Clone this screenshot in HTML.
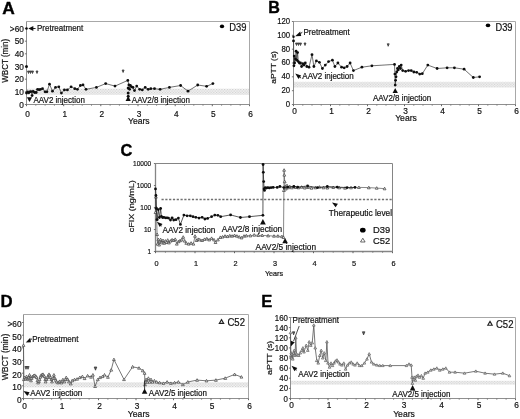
<!DOCTYPE html>
<html><head><meta charset="utf-8"><title>Figure</title>
<style>
html,body{margin:0;padding:0;background:#fff;}
body{width:520px;height:419px;overflow:hidden;font-family:"Liberation Sans",sans-serif;}
svg{display:block;}
svg text{font-family:"Liberation Sans",sans-serif;}
</style></head><body>
<svg width="520" height="419" viewBox="0 0 520 419">
<defs>
<pattern id="hatch" width="2.7" height="2.7" patternUnits="userSpaceOnUse">
<rect width="2.7" height="2.7" fill="#f7f7f7"/>
<rect x="0" y="0" width="1.15" height="1.15" fill="#c8c8c8"/>
<rect x="1.35" y="1.35" width="1.15" height="1.15" fill="#c8c8c8"/>
</pattern>
<filter id="soft" x="0" y="0" width="520" height="419" filterUnits="userSpaceOnUse"><feGaussianBlur stdDeviation="0.35"/></filter>
</defs>
<rect width="520" height="419" fill="#fff"/>
<g filter="url(#soft)">
<text x="0" y="0" font-size="16.20" text-anchor="start" font-weight="bold" fill="#000" stroke="#000" stroke-width="0.35" transform="translate(2.3,13.7) scale(1.07,1)">A</text>
<rect x="27.0" y="88.7" width="222.0" height="6.1" fill="url(#hatch)"/>
<path d="M26.5 21.5 H249.5 V104.5" fill="none" stroke="#a8a8a8" stroke-width="1"/>
<path d="M26.5 21.5 V104.5 H249.5" fill="none" stroke="#828282" stroke-width="0.9"/>
<line x1="26.5" y1="104.5" x2="26.5" y2="106.2" stroke="#555" stroke-width="0.9"/>
<text x="0" y="0" font-size="9.05" text-anchor="middle" font-weight="normal" fill="#111" stroke="#111" stroke-width="0.2" transform="translate(27.6,117.2) scale(0.92,1)">0</text>
<line x1="63.7" y1="104.5" x2="63.7" y2="106.2" stroke="#555" stroke-width="0.9"/>
<text x="0" y="0" font-size="9.05" text-anchor="middle" font-weight="normal" fill="#111" stroke="#111" stroke-width="0.2" transform="translate(64.8,117.2) scale(0.92,1)">1</text>
<line x1="100.8" y1="104.5" x2="100.8" y2="106.2" stroke="#555" stroke-width="0.9"/>
<text x="0" y="0" font-size="9.05" text-anchor="middle" font-weight="normal" fill="#111" stroke="#111" stroke-width="0.2" transform="translate(101.9,117.2) scale(0.92,1)">2</text>
<line x1="138.0" y1="104.5" x2="138.0" y2="106.2" stroke="#555" stroke-width="0.9"/>
<text x="0" y="0" font-size="9.05" text-anchor="middle" font-weight="normal" fill="#111" stroke="#111" stroke-width="0.2" transform="translate(139.1,117.2) scale(0.92,1)">3</text>
<line x1="175.2" y1="104.5" x2="175.2" y2="106.2" stroke="#555" stroke-width="0.9"/>
<text x="0" y="0" font-size="9.05" text-anchor="middle" font-weight="normal" fill="#111" stroke="#111" stroke-width="0.2" transform="translate(176.3,117.2) scale(0.92,1)">4</text>
<line x1="212.3" y1="104.5" x2="212.3" y2="106.2" stroke="#555" stroke-width="0.9"/>
<text x="0" y="0" font-size="9.05" text-anchor="middle" font-weight="normal" fill="#111" stroke="#111" stroke-width="0.2" transform="translate(213.4,117.2) scale(0.92,1)">5</text>
<line x1="249.5" y1="104.5" x2="249.5" y2="106.2" stroke="#555" stroke-width="0.9"/>
<text x="0" y="0" font-size="9.05" text-anchor="middle" font-weight="normal" fill="#111" stroke="#111" stroke-width="0.2" transform="translate(250.6,117.2) scale(0.92,1)">6</text>
<line x1="35.8" y1="104.5" x2="35.8" y2="105.8" stroke="#666" stroke-width="0.7"/>
<line x1="45.1" y1="104.5" x2="45.1" y2="105.8" stroke="#666" stroke-width="0.7"/>
<line x1="54.4" y1="104.5" x2="54.4" y2="105.8" stroke="#666" stroke-width="0.7"/>
<line x1="73.0" y1="104.5" x2="73.0" y2="105.8" stroke="#666" stroke-width="0.7"/>
<line x1="82.2" y1="104.5" x2="82.2" y2="105.8" stroke="#666" stroke-width="0.7"/>
<line x1="91.5" y1="104.5" x2="91.5" y2="105.8" stroke="#666" stroke-width="0.7"/>
<line x1="110.1" y1="104.5" x2="110.1" y2="105.8" stroke="#666" stroke-width="0.7"/>
<line x1="119.4" y1="104.5" x2="119.4" y2="105.8" stroke="#666" stroke-width="0.7"/>
<line x1="128.7" y1="104.5" x2="128.7" y2="105.8" stroke="#666" stroke-width="0.7"/>
<line x1="147.3" y1="104.5" x2="147.3" y2="105.8" stroke="#666" stroke-width="0.7"/>
<line x1="156.6" y1="104.5" x2="156.6" y2="105.8" stroke="#666" stroke-width="0.7"/>
<line x1="165.9" y1="104.5" x2="165.9" y2="105.8" stroke="#666" stroke-width="0.7"/>
<line x1="184.5" y1="104.5" x2="184.5" y2="105.8" stroke="#666" stroke-width="0.7"/>
<line x1="193.8" y1="104.5" x2="193.8" y2="105.8" stroke="#666" stroke-width="0.7"/>
<line x1="203.0" y1="104.5" x2="203.0" y2="105.8" stroke="#666" stroke-width="0.7"/>
<line x1="221.6" y1="104.5" x2="221.6" y2="105.8" stroke="#666" stroke-width="0.7"/>
<line x1="230.9" y1="104.5" x2="230.9" y2="105.8" stroke="#666" stroke-width="0.7"/>
<line x1="240.2" y1="104.5" x2="240.2" y2="105.8" stroke="#666" stroke-width="0.7"/>
<line x1="24.9" y1="104.5" x2="26.5" y2="104.5" stroke="#555" stroke-width="0.8"/>
<text x="0" y="0" font-size="9.05" text-anchor="end" font-weight="normal" fill="#111" stroke="#111" stroke-width="0.2" transform="translate(23.9,107.5) scale(0.92,1)">0</text>
<line x1="24.9" y1="91.8" x2="26.5" y2="91.8" stroke="#555" stroke-width="0.8"/>
<text x="0" y="0" font-size="9.05" text-anchor="end" font-weight="normal" fill="#111" stroke="#111" stroke-width="0.2" transform="translate(23.9,94.8) scale(0.92,1)">10</text>
<line x1="24.9" y1="79.2" x2="26.5" y2="79.2" stroke="#555" stroke-width="0.8"/>
<text x="0" y="0" font-size="9.05" text-anchor="end" font-weight="normal" fill="#111" stroke="#111" stroke-width="0.2" transform="translate(23.9,82.2) scale(0.92,1)">20</text>
<line x1="24.9" y1="66.5" x2="26.5" y2="66.5" stroke="#555" stroke-width="0.8"/>
<text x="0" y="0" font-size="9.05" text-anchor="end" font-weight="normal" fill="#111" stroke="#111" stroke-width="0.2" transform="translate(23.9,69.5) scale(0.92,1)">30</text>
<line x1="24.9" y1="53.8" x2="26.5" y2="53.8" stroke="#555" stroke-width="0.8"/>
<text x="0" y="0" font-size="9.05" text-anchor="end" font-weight="normal" fill="#111" stroke="#111" stroke-width="0.2" transform="translate(23.9,56.8) scale(0.92,1)">40</text>
<line x1="24.9" y1="41.2" x2="26.5" y2="41.2" stroke="#555" stroke-width="0.8"/>
<text x="0" y="0" font-size="9.05" text-anchor="end" font-weight="normal" fill="#111" stroke="#111" stroke-width="0.2" transform="translate(23.9,44.2) scale(0.92,1)">50</text>
<line x1="24.9" y1="28.5" x2="26.5" y2="28.5" stroke="#555" stroke-width="0.8"/>
<text x="0" y="0" font-size="9.05" text-anchor="end" font-weight="normal" fill="#111" stroke="#111" stroke-width="0.2" transform="translate(23.9,31.5) scale(0.92,1)">&gt;60</text>
<text x="0" y="0" font-size="8.72" text-anchor="middle" font-weight="normal" fill="#111" stroke="#111" stroke-width="0.2" transform="translate(7.8,60.8) rotate(-90) scale(0.92,1)">WBCT (min)</text>
<text x="0" y="0" font-size="9.37" text-anchor="middle" font-weight="normal" fill="#111" stroke="#111" stroke-width="0.2" transform="translate(138.8,124.0) scale(0.92,1)">Years</text>
<path d="M26.5 93.1 L27.6 91.8 L28.7 92.8 L29.8 91.8 L31.0 91.6 L32.1 95.6 L33.2 91.5 L34.7 92.5 L36.2 92.5 L37.6 89.3 L39.1 89.7 L40.6 89.3 L42.5 88.7 L45.1 91.8 L46.9 91.8 L49.5 84.2 L52.5 91.2 L55.5 87.4 L58.8 86.8 L61.4 93.1 L64.4 89.9 L67.4 89.9 L71.1 86.8 L74.8 88.7 L77.4 89.3 L80.4 85.5 L83.0 84.9 L86.0 89.3 L96.4 87.4 L105.7 83.6 L115.0 86.1 L127.8 80.4 L128.9 84.9 L129.6 89.3 L130.4 85.5 L131.5 86.8 L133.0 87.4 L134.5 90.6 L136.7 86.1 L139.7 89.3 L142.3 89.9 L145.2 87.4 L148.2 89.3 L150.8 88.7 L154.5 88.7 L160.1 89.3 L169.4 87.4 L180.6 85.5 L188.0 91.2 L197.7 85.0 L206.6 86.3 L212.9 83.6" fill="none" stroke="#333" stroke-width="0.7" stroke-linejoin="round"/>
<circle cx="26.5" cy="93.1" r="1.4" fill="#111"/>
<circle cx="27.6" cy="91.8" r="1.4" fill="#111"/>
<circle cx="28.7" cy="92.8" r="1.4" fill="#111"/>
<circle cx="29.8" cy="91.8" r="1.4" fill="#111"/>
<circle cx="31.0" cy="91.6" r="1.4" fill="#111"/>
<circle cx="32.1" cy="95.6" r="1.4" fill="#111"/>
<circle cx="33.2" cy="91.5" r="1.4" fill="#111"/>
<circle cx="34.7" cy="92.5" r="1.4" fill="#111"/>
<circle cx="36.2" cy="92.5" r="1.4" fill="#111"/>
<circle cx="37.6" cy="89.3" r="1.4" fill="#111"/>
<circle cx="39.1" cy="89.7" r="1.4" fill="#111"/>
<circle cx="40.6" cy="89.3" r="1.4" fill="#111"/>
<circle cx="42.5" cy="88.7" r="1.4" fill="#111"/>
<circle cx="45.1" cy="91.8" r="1.4" fill="#111"/>
<circle cx="46.9" cy="91.8" r="1.4" fill="#111"/>
<circle cx="49.5" cy="84.2" r="1.4" fill="#111"/>
<circle cx="52.5" cy="91.2" r="1.4" fill="#111"/>
<circle cx="55.5" cy="87.4" r="1.4" fill="#111"/>
<circle cx="58.8" cy="86.8" r="1.4" fill="#111"/>
<circle cx="61.4" cy="93.1" r="1.4" fill="#111"/>
<circle cx="64.4" cy="89.9" r="1.4" fill="#111"/>
<circle cx="67.4" cy="89.9" r="1.4" fill="#111"/>
<circle cx="71.1" cy="86.8" r="1.4" fill="#111"/>
<circle cx="74.8" cy="88.7" r="1.4" fill="#111"/>
<circle cx="77.4" cy="89.3" r="1.4" fill="#111"/>
<circle cx="80.4" cy="85.5" r="1.4" fill="#111"/>
<circle cx="83.0" cy="84.9" r="1.4" fill="#111"/>
<circle cx="86.0" cy="89.3" r="1.4" fill="#111"/>
<circle cx="96.4" cy="87.4" r="1.4" fill="#111"/>
<circle cx="105.7" cy="83.6" r="1.4" fill="#111"/>
<circle cx="115.0" cy="86.1" r="1.4" fill="#111"/>
<circle cx="127.8" cy="80.4" r="1.4" fill="#111"/>
<circle cx="128.9" cy="84.9" r="1.4" fill="#111"/>
<circle cx="129.6" cy="89.3" r="1.4" fill="#111"/>
<circle cx="130.4" cy="85.5" r="1.4" fill="#111"/>
<circle cx="131.5" cy="86.8" r="1.4" fill="#111"/>
<circle cx="133.0" cy="87.4" r="1.4" fill="#111"/>
<circle cx="134.5" cy="90.6" r="1.4" fill="#111"/>
<circle cx="136.7" cy="86.1" r="1.4" fill="#111"/>
<circle cx="139.7" cy="89.3" r="1.4" fill="#111"/>
<circle cx="142.3" cy="89.9" r="1.4" fill="#111"/>
<circle cx="145.2" cy="87.4" r="1.4" fill="#111"/>
<circle cx="148.2" cy="89.3" r="1.4" fill="#111"/>
<circle cx="150.8" cy="88.7" r="1.4" fill="#111"/>
<circle cx="154.5" cy="88.7" r="1.4" fill="#111"/>
<circle cx="160.1" cy="89.3" r="1.4" fill="#111"/>
<circle cx="169.4" cy="87.4" r="1.4" fill="#111"/>
<circle cx="180.6" cy="85.5" r="1.4" fill="#111"/>
<circle cx="188.0" cy="91.2" r="1.4" fill="#111"/>
<circle cx="197.7" cy="85.0" r="1.4" fill="#111"/>
<circle cx="206.6" cy="86.3" r="1.4" fill="#111"/>
<circle cx="212.9" cy="83.6" r="1.4" fill="#111"/>
<circle cx="26.5" cy="66.5" r="1.5" fill="#111"/>
<circle cx="26.5" cy="28.5" r="1.25" fill="#111"/>
<circle cx="128.2" cy="88.0" r="1.5" fill="#111"/>
<circle cx="128.2" cy="93.1" r="1.5" fill="#111"/>
<circle cx="128.2" cy="96.3" r="1.5" fill="#111"/>
<path d="M128.2 96.1 L130.8 101.0 L125.6 101.0 Z" fill="#111"/>
<path d="M28.3 28.5 L33.3 30.9 L33.3 26.1 Z" fill="#111"/>
<line x1="33" y1="28.5" x2="35.6" y2="28.5" stroke="#111" stroke-width="0.9"/>
<text x="0" y="0" font-size="8.72" text-anchor="start" font-weight="normal" fill="#111" stroke="#111" stroke-width="0.2" transform="translate(37.0,30.9) scale(0.92,1)">Pretreatment</text>
<path d="M27.5 71.0 L29.5 71.0 L28.5 73.5 Z" fill="#666" stroke="#2a2a2a" stroke-width="0.7"/>
<path d="M29.5 71.0 L31.5 71.0 L30.5 73.5 Z" fill="#666" stroke="#2a2a2a" stroke-width="0.7"/>
<path d="M31.5 71.0 L33.5 71.0 L32.5 73.5 Z" fill="#666" stroke="#2a2a2a" stroke-width="0.7"/>
<path d="M36.0 71.0 L38.0 71.0 L37.0 73.5 Z" fill="#666" stroke="#2a2a2a" stroke-width="0.7"/>
<path d="M122.1 70.0 L124.1 70.0 L123.1 72.5 Z" fill="#666" stroke="#2a2a2a" stroke-width="0.7"/>
<path d="M29.5 102.1 L32.1 97.2 L26.9 97.2 Z" fill="#111"/>
<text x="0" y="0" font-size="8.72" text-anchor="start" font-weight="normal" fill="#111" stroke="#111" stroke-width="0.2" transform="translate(33.5,102.5) scale(0.92,1)">AAV2 injection</text>
<text x="0" y="0" font-size="8.72" text-anchor="start" font-weight="normal" fill="#111" stroke="#111" stroke-width="0.2" transform="translate(131.8,102.6) scale(0.92,1)">AAV2/8 injection</text>
<ellipse cx="222" cy="26.4" rx="2.2" ry="1.8" fill="#000"/>
<text x="0" y="0" font-size="10.25" text-anchor="start" font-weight="normal" fill="#111" stroke="#111" stroke-width="0.2" transform="translate(229.2,31.4) scale(0.92,1)">D39</text>
<text x="0" y="0" font-size="16.80" text-anchor="start" font-weight="bold" fill="#000" stroke="#000" stroke-width="0.35" transform="translate(268.3,13.4) scale(0.96,1)">B</text>
<rect x="294.0" y="81.8" width="221.0" height="5.7" fill="url(#hatch)"/>
<path d="M293.5 21.5 H515.5 V104.5" fill="none" stroke="#a8a8a8" stroke-width="1"/>
<path d="M293.5 21.5 V104.5 H515.5" fill="none" stroke="#828282" stroke-width="0.9"/>
<line x1="293.5" y1="104.5" x2="293.5" y2="106.2" stroke="#555" stroke-width="0.9"/>
<text x="0" y="0" font-size="9.05" text-anchor="middle" font-weight="normal" fill="#111" stroke="#111" stroke-width="0.2" transform="translate(294.6,114.3) scale(0.92,1)">0</text>
<line x1="330.5" y1="104.5" x2="330.5" y2="106.2" stroke="#555" stroke-width="0.9"/>
<text x="0" y="0" font-size="9.05" text-anchor="middle" font-weight="normal" fill="#111" stroke="#111" stroke-width="0.2" transform="translate(331.6,114.3) scale(0.92,1)">1</text>
<line x1="367.5" y1="104.5" x2="367.5" y2="106.2" stroke="#555" stroke-width="0.9"/>
<text x="0" y="0" font-size="9.05" text-anchor="middle" font-weight="normal" fill="#111" stroke="#111" stroke-width="0.2" transform="translate(368.6,114.3) scale(0.92,1)">2</text>
<line x1="404.5" y1="104.5" x2="404.5" y2="106.2" stroke="#555" stroke-width="0.9"/>
<text x="0" y="0" font-size="9.05" text-anchor="middle" font-weight="normal" fill="#111" stroke="#111" stroke-width="0.2" transform="translate(405.6,114.3) scale(0.92,1)">3</text>
<line x1="441.5" y1="104.5" x2="441.5" y2="106.2" stroke="#555" stroke-width="0.9"/>
<text x="0" y="0" font-size="9.05" text-anchor="middle" font-weight="normal" fill="#111" stroke="#111" stroke-width="0.2" transform="translate(442.6,114.3) scale(0.92,1)">4</text>
<line x1="478.5" y1="104.5" x2="478.5" y2="106.2" stroke="#555" stroke-width="0.9"/>
<text x="0" y="0" font-size="9.05" text-anchor="middle" font-weight="normal" fill="#111" stroke="#111" stroke-width="0.2" transform="translate(479.6,114.3) scale(0.92,1)">5</text>
<line x1="515.5" y1="104.5" x2="515.5" y2="106.2" stroke="#555" stroke-width="0.9"/>
<text x="0" y="0" font-size="9.05" text-anchor="middle" font-weight="normal" fill="#111" stroke="#111" stroke-width="0.2" transform="translate(516.6,114.3) scale(0.92,1)">6</text>
<line x1="302.8" y1="104.5" x2="302.8" y2="105.8" stroke="#666" stroke-width="0.7"/>
<line x1="312.0" y1="104.5" x2="312.0" y2="105.8" stroke="#666" stroke-width="0.7"/>
<line x1="321.2" y1="104.5" x2="321.2" y2="105.8" stroke="#666" stroke-width="0.7"/>
<line x1="339.8" y1="104.5" x2="339.8" y2="105.8" stroke="#666" stroke-width="0.7"/>
<line x1="349.0" y1="104.5" x2="349.0" y2="105.8" stroke="#666" stroke-width="0.7"/>
<line x1="358.2" y1="104.5" x2="358.2" y2="105.8" stroke="#666" stroke-width="0.7"/>
<line x1="376.8" y1="104.5" x2="376.8" y2="105.8" stroke="#666" stroke-width="0.7"/>
<line x1="386.0" y1="104.5" x2="386.0" y2="105.8" stroke="#666" stroke-width="0.7"/>
<line x1="395.2" y1="104.5" x2="395.2" y2="105.8" stroke="#666" stroke-width="0.7"/>
<line x1="413.8" y1="104.5" x2="413.8" y2="105.8" stroke="#666" stroke-width="0.7"/>
<line x1="423.0" y1="104.5" x2="423.0" y2="105.8" stroke="#666" stroke-width="0.7"/>
<line x1="432.2" y1="104.5" x2="432.2" y2="105.8" stroke="#666" stroke-width="0.7"/>
<line x1="450.8" y1="104.5" x2="450.8" y2="105.8" stroke="#666" stroke-width="0.7"/>
<line x1="460.0" y1="104.5" x2="460.0" y2="105.8" stroke="#666" stroke-width="0.7"/>
<line x1="469.2" y1="104.5" x2="469.2" y2="105.8" stroke="#666" stroke-width="0.7"/>
<line x1="487.8" y1="104.5" x2="487.8" y2="105.8" stroke="#666" stroke-width="0.7"/>
<line x1="497.0" y1="104.5" x2="497.0" y2="105.8" stroke="#666" stroke-width="0.7"/>
<line x1="506.2" y1="104.5" x2="506.2" y2="105.8" stroke="#666" stroke-width="0.7"/>
<line x1="291.9" y1="104.5" x2="293.5" y2="104.5" stroke="#555" stroke-width="0.8"/>
<text x="0" y="0" font-size="9.05" text-anchor="end" font-weight="normal" fill="#111" stroke="#111" stroke-width="0.2" transform="translate(290.2,106.8) scale(0.86,1)">0</text>
<line x1="291.9" y1="90.7" x2="293.5" y2="90.7" stroke="#555" stroke-width="0.8"/>
<text x="0" y="0" font-size="9.05" text-anchor="end" font-weight="normal" fill="#111" stroke="#111" stroke-width="0.2" transform="translate(290.2,93.0) scale(0.86,1)">20</text>
<line x1="291.9" y1="76.8" x2="293.5" y2="76.8" stroke="#555" stroke-width="0.8"/>
<text x="0" y="0" font-size="9.05" text-anchor="end" font-weight="normal" fill="#111" stroke="#111" stroke-width="0.2" transform="translate(290.2,79.1) scale(0.86,1)">40</text>
<line x1="291.9" y1="63.0" x2="293.5" y2="63.0" stroke="#555" stroke-width="0.8"/>
<text x="0" y="0" font-size="9.05" text-anchor="end" font-weight="normal" fill="#111" stroke="#111" stroke-width="0.2" transform="translate(290.2,65.3) scale(0.86,1)">60</text>
<line x1="291.9" y1="49.2" x2="293.5" y2="49.2" stroke="#555" stroke-width="0.8"/>
<text x="0" y="0" font-size="9.05" text-anchor="end" font-weight="normal" fill="#111" stroke="#111" stroke-width="0.2" transform="translate(290.2,51.5) scale(0.86,1)">80</text>
<line x1="291.9" y1="35.3" x2="293.5" y2="35.3" stroke="#555" stroke-width="0.8"/>
<text x="0" y="0" font-size="9.05" text-anchor="end" font-weight="normal" fill="#111" stroke="#111" stroke-width="0.2" transform="translate(290.2,37.6) scale(0.86,1)">100</text>
<line x1="291.9" y1="21.5" x2="293.5" y2="21.5" stroke="#555" stroke-width="0.8"/>
<text x="0" y="0" font-size="9.05" text-anchor="end" font-weight="normal" fill="#111" stroke="#111" stroke-width="0.2" transform="translate(290.2,23.8) scale(0.86,1)">120</text>
<text x="0" y="0" font-size="7.80" text-anchor="middle" font-weight="normal" fill="#111" stroke="#111" stroke-width="0.2" transform="translate(276.0,67.4) rotate(-90) scale(1.08,1)">aPTT (s)</text>
<text x="0" y="0" font-size="9.37" text-anchor="middle" font-weight="normal" fill="#111" stroke="#111" stroke-width="0.2" transform="translate(406.0,120.8) scale(0.92,1)">Years</text>
<path d="M293.5 40.9 L293.9 65.8 L294.2 56.1 L294.6 63.0 L295.4 58.8 L296.1 51.2 L296.8 60.2 L297.6 52.6 L298.3 61.6 L299.4 63.0 L300.5 63.0 L301.6 66.5 L302.8 63.7 L303.9 65.1 L305.3 63.0 L306.8 66.5 L309.0 67.2 L312.0 54.7 L313.9 66.5 L316.4 60.9 L319.4 62.3 L322.4 68.5 L325.3 65.1 L328.6 61.6 L332.4 60.2 L334.9 66.5 L337.9 63.0 L341.6 67.2 L344.2 67.8 L347.1 66.5 L350.1 63.0 L353.4 70.6 L361.9 67.2 L371.9 65.8 L394.5 64.4 L394.9 74.1 L395.2 85.1 L395.6 80.3 L396.0 76.8 L396.7 72.0 L397.5 68.5 L398.2 69.9 L399.3 66.5 L400.4 68.5 L401.2 65.1 L402.7 70.6 L405.6 71.3 L408.6 70.6 L411.2 70.6 L413.8 72.0 L416.7 72.3 L419.7 74.1 L422.3 73.7 L427.8 65.1 L437.1 68.5 L447.1 67.8 L454.4 67.8 L464.1 69.2 L473.3 77.5 L479.6 76.8" fill="none" stroke="#333" stroke-width="0.7" stroke-linejoin="round"/>
<circle cx="293.5" cy="40.9" r="1.4" fill="#111"/>
<circle cx="293.9" cy="65.8" r="1.4" fill="#111"/>
<circle cx="294.2" cy="56.1" r="1.4" fill="#111"/>
<circle cx="294.6" cy="63.0" r="1.4" fill="#111"/>
<circle cx="295.4" cy="58.8" r="1.4" fill="#111"/>
<circle cx="296.1" cy="51.2" r="1.4" fill="#111"/>
<circle cx="296.8" cy="60.2" r="1.4" fill="#111"/>
<circle cx="297.6" cy="52.6" r="1.4" fill="#111"/>
<circle cx="298.3" cy="61.6" r="1.4" fill="#111"/>
<circle cx="299.4" cy="63.0" r="1.4" fill="#111"/>
<circle cx="300.5" cy="63.0" r="1.4" fill="#111"/>
<circle cx="301.6" cy="66.5" r="1.4" fill="#111"/>
<circle cx="302.8" cy="63.7" r="1.4" fill="#111"/>
<circle cx="303.9" cy="65.1" r="1.4" fill="#111"/>
<circle cx="305.3" cy="63.0" r="1.4" fill="#111"/>
<circle cx="306.8" cy="66.5" r="1.4" fill="#111"/>
<circle cx="309.0" cy="67.2" r="1.4" fill="#111"/>
<circle cx="312.0" cy="54.7" r="1.4" fill="#111"/>
<circle cx="313.9" cy="66.5" r="1.4" fill="#111"/>
<circle cx="316.4" cy="60.9" r="1.4" fill="#111"/>
<circle cx="319.4" cy="62.3" r="1.4" fill="#111"/>
<circle cx="322.4" cy="68.5" r="1.4" fill="#111"/>
<circle cx="325.3" cy="65.1" r="1.4" fill="#111"/>
<circle cx="328.6" cy="61.6" r="1.4" fill="#111"/>
<circle cx="332.4" cy="60.2" r="1.4" fill="#111"/>
<circle cx="334.9" cy="66.5" r="1.4" fill="#111"/>
<circle cx="337.9" cy="63.0" r="1.4" fill="#111"/>
<circle cx="341.6" cy="67.2" r="1.4" fill="#111"/>
<circle cx="344.2" cy="67.8" r="1.4" fill="#111"/>
<circle cx="347.1" cy="66.5" r="1.4" fill="#111"/>
<circle cx="350.1" cy="63.0" r="1.4" fill="#111"/>
<circle cx="353.4" cy="70.6" r="1.4" fill="#111"/>
<circle cx="361.9" cy="67.2" r="1.4" fill="#111"/>
<circle cx="371.9" cy="65.8" r="1.4" fill="#111"/>
<circle cx="394.5" cy="64.4" r="1.4" fill="#111"/>
<circle cx="394.9" cy="74.1" r="1.4" fill="#111"/>
<circle cx="395.2" cy="85.1" r="1.4" fill="#111"/>
<circle cx="395.6" cy="80.3" r="1.4" fill="#111"/>
<circle cx="396.0" cy="76.8" r="1.4" fill="#111"/>
<circle cx="396.7" cy="72.0" r="1.4" fill="#111"/>
<circle cx="397.5" cy="68.5" r="1.4" fill="#111"/>
<circle cx="398.2" cy="69.9" r="1.4" fill="#111"/>
<circle cx="399.3" cy="66.5" r="1.4" fill="#111"/>
<circle cx="400.4" cy="68.5" r="1.4" fill="#111"/>
<circle cx="401.2" cy="65.1" r="1.4" fill="#111"/>
<circle cx="402.7" cy="70.6" r="1.4" fill="#111"/>
<circle cx="405.6" cy="71.3" r="1.4" fill="#111"/>
<circle cx="408.6" cy="70.6" r="1.4" fill="#111"/>
<circle cx="411.2" cy="70.6" r="1.4" fill="#111"/>
<circle cx="413.8" cy="72.0" r="1.4" fill="#111"/>
<circle cx="416.7" cy="72.3" r="1.4" fill="#111"/>
<circle cx="419.7" cy="74.1" r="1.4" fill="#111"/>
<circle cx="422.3" cy="73.7" r="1.4" fill="#111"/>
<circle cx="427.8" cy="65.1" r="1.4" fill="#111"/>
<circle cx="437.1" cy="68.5" r="1.4" fill="#111"/>
<circle cx="447.1" cy="67.8" r="1.4" fill="#111"/>
<circle cx="454.4" cy="67.8" r="1.4" fill="#111"/>
<circle cx="464.1" cy="69.2" r="1.4" fill="#111"/>
<circle cx="473.3" cy="77.5" r="1.4" fill="#111"/>
<circle cx="479.6" cy="76.8" r="1.4" fill="#111"/>
<circle cx="293.5" cy="36.7" r="1.25" fill="#111"/>
<path d="M395.2 88.1 L397.9 93.0 L392.6 93.0 Z" fill="#111"/>
<path d="M295.2 36.3 L300.2 31.4 L301.2 36.1 Z" fill="#111"/>
<line x1="300.5" y1="33.5" x2="302.3" y2="32.3" stroke="#111" stroke-width="0.9"/>
<text x="0" y="0" font-size="8.72" text-anchor="start" font-weight="normal" fill="#111" stroke="#111" stroke-width="0.2" transform="translate(303.5,34.8) scale(0.92,1)">Pretreatment</text>
<path d="M295.5 43.0 L297.5 43.0 L296.5 45.5 Z" fill="#666" stroke="#2a2a2a" stroke-width="0.7"/>
<path d="M297.5 43.0 L299.5 43.0 L298.5 45.5 Z" fill="#666" stroke="#2a2a2a" stroke-width="0.7"/>
<path d="M299.5 43.0 L301.5 43.0 L300.5 45.5 Z" fill="#666" stroke="#2a2a2a" stroke-width="0.7"/>
<path d="M304.0 43.0 L306.0 43.0 L305.0 45.5 Z" fill="#666" stroke="#2a2a2a" stroke-width="0.7"/>
<path d="M387.2 43.8 L389.2 43.8 L388.2 46.3 Z" fill="#666" stroke="#2a2a2a" stroke-width="0.7"/>
<path d="M295.3 73.6 L298.5 78.9 L301.2 75.5 Z" fill="#111"/>
<line x1="299.9" y1="77.2" x2="301.1" y2="78.1" stroke="#111" stroke-width="0.9"/>
<text x="0" y="0" font-size="8.72" text-anchor="start" font-weight="normal" fill="#111" stroke="#111" stroke-width="0.2" transform="translate(302.3,78.6) scale(0.92,1)">AAV2 injection</text>
<text x="0" y="0" font-size="8.72" text-anchor="start" font-weight="normal" fill="#111" stroke="#111" stroke-width="0.2" transform="translate(373.0,101.0) scale(0.92,1)">AAV2/8 injection</text>
<ellipse cx="488" cy="25.4" rx="2.3" ry="1.8" fill="#000"/>
<text x="0" y="0" font-size="10.36" text-anchor="start" font-weight="normal" fill="#111" stroke="#111" stroke-width="0.2" transform="translate(495.4,30.7) scale(0.9,1)">D39</text>
<text x="0" y="0" font-size="16.40" text-anchor="start" font-weight="bold" fill="#000" stroke="#000" stroke-width="0.35" transform="translate(120.6,156.3) scale(1.0,1)">C</text>
<path d="M155.5 163.5 H392.5 V251.5" fill="none" stroke="#858585" stroke-width="1"/>
<path d="M155.5 163.5 V251.5 H392.5" fill="none" stroke="#858585" stroke-width="1.3"/>
<line x1="155.5" y1="251.5" x2="155.5" y2="253.2" stroke="#555" stroke-width="0.9"/>
<text x="0" y="0" font-size="7.96" text-anchor="middle" font-weight="normal" fill="#111" stroke="#111" stroke-width="0.2" transform="translate(156.6,265.7) scale(0.92,1)">0</text>
<line x1="195.0" y1="251.5" x2="195.0" y2="253.2" stroke="#555" stroke-width="0.9"/>
<text x="0" y="0" font-size="7.96" text-anchor="middle" font-weight="normal" fill="#111" stroke="#111" stroke-width="0.2" transform="translate(196.1,265.7) scale(0.92,1)">1</text>
<line x1="234.5" y1="251.5" x2="234.5" y2="253.2" stroke="#555" stroke-width="0.9"/>
<text x="0" y="0" font-size="7.96" text-anchor="middle" font-weight="normal" fill="#111" stroke="#111" stroke-width="0.2" transform="translate(235.6,265.7) scale(0.92,1)">2</text>
<line x1="274.0" y1="251.5" x2="274.0" y2="253.2" stroke="#555" stroke-width="0.9"/>
<text x="0" y="0" font-size="7.96" text-anchor="middle" font-weight="normal" fill="#111" stroke="#111" stroke-width="0.2" transform="translate(275.1,265.7) scale(0.92,1)">3</text>
<line x1="313.5" y1="251.5" x2="313.5" y2="253.2" stroke="#555" stroke-width="0.9"/>
<text x="0" y="0" font-size="7.96" text-anchor="middle" font-weight="normal" fill="#111" stroke="#111" stroke-width="0.2" transform="translate(314.6,265.7) scale(0.92,1)">4</text>
<line x1="353.0" y1="251.5" x2="353.0" y2="253.2" stroke="#555" stroke-width="0.9"/>
<text x="0" y="0" font-size="7.96" text-anchor="middle" font-weight="normal" fill="#111" stroke="#111" stroke-width="0.2" transform="translate(354.1,265.7) scale(0.92,1)">5</text>
<line x1="392.5" y1="251.5" x2="392.5" y2="253.2" stroke="#555" stroke-width="0.9"/>
<text x="0" y="0" font-size="7.96" text-anchor="middle" font-weight="normal" fill="#111" stroke="#111" stroke-width="0.2" transform="translate(393.6,265.7) scale(0.92,1)">6</text>
<line x1="165.4" y1="251.5" x2="165.4" y2="252.8" stroke="#666" stroke-width="0.7"/>
<line x1="175.2" y1="251.5" x2="175.2" y2="252.8" stroke="#666" stroke-width="0.7"/>
<line x1="185.1" y1="251.5" x2="185.1" y2="252.8" stroke="#666" stroke-width="0.7"/>
<line x1="204.9" y1="251.5" x2="204.9" y2="252.8" stroke="#666" stroke-width="0.7"/>
<line x1="214.8" y1="251.5" x2="214.8" y2="252.8" stroke="#666" stroke-width="0.7"/>
<line x1="224.6" y1="251.5" x2="224.6" y2="252.8" stroke="#666" stroke-width="0.7"/>
<line x1="244.4" y1="251.5" x2="244.4" y2="252.8" stroke="#666" stroke-width="0.7"/>
<line x1="254.2" y1="251.5" x2="254.2" y2="252.8" stroke="#666" stroke-width="0.7"/>
<line x1="264.1" y1="251.5" x2="264.1" y2="252.8" stroke="#666" stroke-width="0.7"/>
<line x1="283.9" y1="251.5" x2="283.9" y2="252.8" stroke="#666" stroke-width="0.7"/>
<line x1="293.8" y1="251.5" x2="293.8" y2="252.8" stroke="#666" stroke-width="0.7"/>
<line x1="303.6" y1="251.5" x2="303.6" y2="252.8" stroke="#666" stroke-width="0.7"/>
<line x1="323.4" y1="251.5" x2="323.4" y2="252.8" stroke="#666" stroke-width="0.7"/>
<line x1="333.2" y1="251.5" x2="333.2" y2="252.8" stroke="#666" stroke-width="0.7"/>
<line x1="343.1" y1="251.5" x2="343.1" y2="252.8" stroke="#666" stroke-width="0.7"/>
<line x1="362.9" y1="251.5" x2="362.9" y2="252.8" stroke="#666" stroke-width="0.7"/>
<line x1="372.8" y1="251.5" x2="372.8" y2="252.8" stroke="#666" stroke-width="0.7"/>
<line x1="382.6" y1="251.5" x2="382.6" y2="252.8" stroke="#666" stroke-width="0.7"/>
<line x1="153.9" y1="251.5" x2="155.5" y2="251.5" stroke="#555" stroke-width="0.8"/>
<text x="0" y="0" font-size="7.96" text-anchor="end" font-weight="normal" fill="#111" stroke="#111" stroke-width="0.2" transform="translate(151.2,254.3) scale(0.82,1)">1</text>
<line x1="153.9" y1="229.5" x2="155.5" y2="229.5" stroke="#555" stroke-width="0.8"/>
<text x="0" y="0" font-size="7.96" text-anchor="end" font-weight="normal" fill="#111" stroke="#111" stroke-width="0.2" transform="translate(151.2,232.3) scale(0.82,1)">10</text>
<line x1="153.9" y1="207.5" x2="155.5" y2="207.5" stroke="#555" stroke-width="0.8"/>
<text x="0" y="0" font-size="7.96" text-anchor="end" font-weight="normal" fill="#111" stroke="#111" stroke-width="0.2" transform="translate(151.2,210.3) scale(0.82,1)">100</text>
<line x1="153.9" y1="185.5" x2="155.5" y2="185.5" stroke="#555" stroke-width="0.8"/>
<text x="0" y="0" font-size="7.96" text-anchor="end" font-weight="normal" fill="#111" stroke="#111" stroke-width="0.2" transform="translate(151.2,188.3) scale(0.82,1)">1000</text>
<line x1="153.9" y1="163.5" x2="155.5" y2="163.5" stroke="#555" stroke-width="0.8"/>
<text x="0" y="0" font-size="7.96" text-anchor="end" font-weight="normal" fill="#111" stroke="#111" stroke-width="0.2" transform="translate(151.2,166.3) scale(0.82,1)">10000</text>
<text x="0" y="0" font-size="8.00" text-anchor="middle" font-weight="normal" fill="#111" stroke="#111" stroke-width="0.2" transform="translate(134,206.2) rotate(-90) scale(1.13,1)">cFIX (ng/mL)</text>
<text x="0" y="0" font-size="7.85" text-anchor="middle" font-weight="normal" fill="#111" stroke="#111" stroke-width="0.2" transform="translate(274.0,276.0) scale(0.92,1)">Years</text>
<line x1="161.5" y1="199.5" x2="392" y2="199.5" stroke="#707070" stroke-width="1.4" stroke-dasharray="2.2 1.6"/>
<path d="M155.5 212.4 L155.9 197.0 L156.3 207.5 L156.7 219.0 L157.1 234.4 L157.5 244.0 L158.3 239.5 L159.1 244.9 L159.8 241.7 L160.6 239.5 L161.8 242.7 L163.0 240.4 L164.2 243.1 L165.4 241.0 L166.6 242.4 L167.7 240.1 L168.9 242.7 L170.5 241.0 L172.1 239.8 L173.7 240.4 L175.2 239.3 L176.8 244.0 L178.4 241.7 L180.0 240.7 L181.6 239.8 L183.2 237.1 L184.7 241.0 L186.3 243.1 L188.7 244.0 L191.1 243.1 L193.4 244.0 L195.0 236.1 L196.6 240.4 L198.2 239.3 L199.7 239.8 L202.1 240.4 L204.5 239.3 L206.8 238.7 L209.2 239.8 L211.6 238.3 L214.0 239.8 L215.5 242.4 L217.9 239.8 L220.3 237.3 L222.6 236.9 L225.0 236.1 L227.4 236.5 L229.8 235.7 L232.1 236.1 L234.5 235.4 L236.9 236.1 L239.2 236.9 L241.6 237.8 L244.0 236.1 L246.3 235.7 L250.3 235.7 L254.2 235.0 L258.2 235.4 L262.2 235.4 L268.1 235.7 L274.0 236.1 L277.9 236.1 L281.9 236.5 L283.5 237.3 L283.9 190.4 L284.1 170.1 L284.3 175.0 L284.7 181.6 L285.1 186.5 L285.9 188.9 L287.0 185.5 L288.2 187.6 L289.8 186.5 L291.8 187.6 L293.8 186.5 L295.7 187.4 L298.5 187.6 L301.6 187.1 L304.8 187.9 L308.0 187.4 L311.5 188.1 L315.5 187.6 L319.4 187.1 L323.4 187.6 L327.3 187.9 L333.2 187.4 L339.2 187.6 L345.1 188.1 L351.0 187.6 L358.9 187.4 L368.8 187.6 L376.7 188.1 L384.6 188.6" fill="none" stroke="#555" stroke-width="0.7" stroke-linejoin="round"/>
<path d="M155.5 211.0 L156.9 213.5 L154.1 213.5 Z" fill="#f4f4f4" stroke="#444" stroke-width="0.75"/>
<path d="M155.9 195.6 L157.3 198.1 L154.5 198.1 Z" fill="#f4f4f4" stroke="#444" stroke-width="0.75"/>
<path d="M156.3 206.1 L157.7 208.6 L154.9 208.6 Z" fill="#f4f4f4" stroke="#444" stroke-width="0.75"/>
<path d="M156.7 217.6 L158.1 220.1 L155.3 220.1 Z" fill="#f4f4f4" stroke="#444" stroke-width="0.75"/>
<path d="M157.1 233.0 L158.5 235.5 L155.7 235.5 Z" fill="#f4f4f4" stroke="#444" stroke-width="0.75"/>
<path d="M157.5 242.6 L158.9 245.1 L156.1 245.1 Z" fill="#f4f4f4" stroke="#444" stroke-width="0.75"/>
<path d="M158.3 238.1 L159.7 240.7 L156.9 240.7 Z" fill="#f4f4f4" stroke="#444" stroke-width="0.75"/>
<path d="M159.1 243.5 L160.5 246.0 L157.7 246.0 Z" fill="#f4f4f4" stroke="#444" stroke-width="0.75"/>
<path d="M159.8 240.3 L161.2 242.8 L158.4 242.8 Z" fill="#f4f4f4" stroke="#444" stroke-width="0.75"/>
<path d="M160.6 238.1 L162.0 240.7 L159.2 240.7 Z" fill="#f4f4f4" stroke="#444" stroke-width="0.75"/>
<path d="M161.8 241.3 L163.2 243.9 L160.4 243.9 Z" fill="#f4f4f4" stroke="#444" stroke-width="0.75"/>
<path d="M163.0 239.0 L164.4 241.5 L161.6 241.5 Z" fill="#f4f4f4" stroke="#444" stroke-width="0.75"/>
<path d="M164.2 241.7 L165.6 244.3 L162.8 244.3 Z" fill="#f4f4f4" stroke="#444" stroke-width="0.75"/>
<path d="M165.4 239.6 L166.8 242.1 L164.0 242.1 Z" fill="#f4f4f4" stroke="#444" stroke-width="0.75"/>
<path d="M166.6 241.0 L168.0 243.5 L165.2 243.5 Z" fill="#f4f4f4" stroke="#444" stroke-width="0.75"/>
<path d="M167.7 238.7 L169.1 241.2 L166.3 241.2 Z" fill="#f4f4f4" stroke="#444" stroke-width="0.75"/>
<path d="M168.9 241.3 L170.3 243.9 L167.5 243.9 Z" fill="#f4f4f4" stroke="#444" stroke-width="0.75"/>
<path d="M170.5 239.6 L171.9 242.1 L169.1 242.1 Z" fill="#f4f4f4" stroke="#444" stroke-width="0.75"/>
<path d="M172.1 238.4 L173.5 240.9 L170.7 240.9 Z" fill="#f4f4f4" stroke="#444" stroke-width="0.75"/>
<path d="M173.7 239.0 L175.1 241.5 L172.3 241.5 Z" fill="#f4f4f4" stroke="#444" stroke-width="0.75"/>
<path d="M175.2 237.9 L176.7 240.4 L173.8 240.4 Z" fill="#f4f4f4" stroke="#444" stroke-width="0.75"/>
<path d="M176.8 242.6 L178.2 245.1 L175.4 245.1 Z" fill="#f4f4f4" stroke="#444" stroke-width="0.75"/>
<path d="M178.4 240.3 L179.8 242.8 L177.0 242.8 Z" fill="#f4f4f4" stroke="#444" stroke-width="0.75"/>
<path d="M180.0 239.3 L181.4 241.8 L178.6 241.8 Z" fill="#f4f4f4" stroke="#444" stroke-width="0.75"/>
<path d="M181.6 238.4 L183.0 240.9 L180.2 240.9 Z" fill="#f4f4f4" stroke="#444" stroke-width="0.75"/>
<path d="M183.2 235.7 L184.6 238.2 L181.8 238.2 Z" fill="#f4f4f4" stroke="#444" stroke-width="0.75"/>
<path d="M184.7 239.6 L186.1 242.1 L183.3 242.1 Z" fill="#f4f4f4" stroke="#444" stroke-width="0.75"/>
<path d="M186.3 241.7 L187.7 244.3 L184.9 244.3 Z" fill="#f4f4f4" stroke="#444" stroke-width="0.75"/>
<path d="M188.7 242.6 L190.1 245.1 L187.3 245.1 Z" fill="#f4f4f4" stroke="#444" stroke-width="0.75"/>
<path d="M191.1 241.7 L192.5 244.3 L189.7 244.3 Z" fill="#f4f4f4" stroke="#444" stroke-width="0.75"/>
<path d="M193.4 242.6 L194.8 245.1 L192.0 245.1 Z" fill="#f4f4f4" stroke="#444" stroke-width="0.75"/>
<path d="M195.0 234.7 L196.4 237.2 L193.6 237.2 Z" fill="#f4f4f4" stroke="#444" stroke-width="0.75"/>
<path d="M196.6 239.0 L198.0 241.5 L195.2 241.5 Z" fill="#f4f4f4" stroke="#444" stroke-width="0.75"/>
<path d="M198.2 237.9 L199.6 240.4 L196.8 240.4 Z" fill="#f4f4f4" stroke="#444" stroke-width="0.75"/>
<path d="M199.7 238.4 L201.1 240.9 L198.3 240.9 Z" fill="#f4f4f4" stroke="#444" stroke-width="0.75"/>
<path d="M202.1 239.0 L203.5 241.5 L200.7 241.5 Z" fill="#f4f4f4" stroke="#444" stroke-width="0.75"/>
<path d="M204.5 237.9 L205.9 240.4 L203.1 240.4 Z" fill="#f4f4f4" stroke="#444" stroke-width="0.75"/>
<path d="M206.8 237.3 L208.2 239.9 L205.4 239.9 Z" fill="#f4f4f4" stroke="#444" stroke-width="0.75"/>
<path d="M209.2 238.4 L210.6 240.9 L207.8 240.9 Z" fill="#f4f4f4" stroke="#444" stroke-width="0.75"/>
<path d="M211.6 236.9 L213.0 239.4 L210.2 239.4 Z" fill="#f4f4f4" stroke="#444" stroke-width="0.75"/>
<path d="M214.0 238.4 L215.4 240.9 L212.6 240.9 Z" fill="#f4f4f4" stroke="#444" stroke-width="0.75"/>
<path d="M215.5 241.0 L216.9 243.5 L214.1 243.5 Z" fill="#f4f4f4" stroke="#444" stroke-width="0.75"/>
<path d="M217.9 238.4 L219.3 240.9 L216.5 240.9 Z" fill="#f4f4f4" stroke="#444" stroke-width="0.75"/>
<path d="M220.3 235.9 L221.7 238.5 L218.9 238.5 Z" fill="#f4f4f4" stroke="#444" stroke-width="0.75"/>
<path d="M222.6 235.5 L224.0 238.0 L221.2 238.0 Z" fill="#f4f4f4" stroke="#444" stroke-width="0.75"/>
<path d="M225.0 234.7 L226.4 237.2 L223.6 237.2 Z" fill="#f4f4f4" stroke="#444" stroke-width="0.75"/>
<path d="M227.4 235.1 L228.8 237.6 L226.0 237.6 Z" fill="#f4f4f4" stroke="#444" stroke-width="0.75"/>
<path d="M229.8 234.3 L231.2 236.9 L228.4 236.9 Z" fill="#f4f4f4" stroke="#444" stroke-width="0.75"/>
<path d="M232.1 234.7 L233.5 237.2 L230.7 237.2 Z" fill="#f4f4f4" stroke="#444" stroke-width="0.75"/>
<path d="M234.5 234.0 L235.9 236.5 L233.1 236.5 Z" fill="#f4f4f4" stroke="#444" stroke-width="0.75"/>
<path d="M236.9 234.7 L238.3 237.2 L235.5 237.2 Z" fill="#f4f4f4" stroke="#444" stroke-width="0.75"/>
<path d="M239.2 235.5 L240.6 238.0 L237.8 238.0 Z" fill="#f4f4f4" stroke="#444" stroke-width="0.75"/>
<path d="M241.6 236.4 L243.0 238.9 L240.2 238.9 Z" fill="#f4f4f4" stroke="#444" stroke-width="0.75"/>
<path d="M244.0 234.7 L245.4 237.2 L242.6 237.2 Z" fill="#f4f4f4" stroke="#444" stroke-width="0.75"/>
<path d="M246.3 234.3 L247.7 236.9 L244.9 236.9 Z" fill="#f4f4f4" stroke="#444" stroke-width="0.75"/>
<path d="M250.3 234.3 L251.7 236.9 L248.9 236.9 Z" fill="#f4f4f4" stroke="#444" stroke-width="0.75"/>
<path d="M254.2 233.6 L255.7 236.2 L252.8 236.2 Z" fill="#f4f4f4" stroke="#444" stroke-width="0.75"/>
<path d="M258.2 234.0 L259.6 236.5 L256.8 236.5 Z" fill="#f4f4f4" stroke="#444" stroke-width="0.75"/>
<path d="M262.2 234.0 L263.6 236.5 L260.8 236.5 Z" fill="#f4f4f4" stroke="#444" stroke-width="0.75"/>
<path d="M268.1 234.3 L269.5 236.9 L266.7 236.9 Z" fill="#f4f4f4" stroke="#444" stroke-width="0.75"/>
<path d="M274.0 234.7 L275.4 237.2 L272.6 237.2 Z" fill="#f4f4f4" stroke="#444" stroke-width="0.75"/>
<path d="M277.9 234.7 L279.3 237.2 L276.6 237.2 Z" fill="#f4f4f4" stroke="#444" stroke-width="0.75"/>
<path d="M281.9 235.1 L283.3 237.6 L280.5 237.6 Z" fill="#f4f4f4" stroke="#444" stroke-width="0.75"/>
<path d="M283.5 235.9 L284.9 238.5 L282.1 238.5 Z" fill="#f4f4f4" stroke="#444" stroke-width="0.75"/>
<path d="M283.9 189.0 L285.3 191.5 L282.5 191.5 Z" fill="#f4f4f4" stroke="#444" stroke-width="0.75"/>
<path d="M284.1 168.7 L285.5 171.2 L282.7 171.2 Z" fill="#f4f4f4" stroke="#444" stroke-width="0.75"/>
<path d="M284.3 173.6 L285.7 176.1 L282.9 176.1 Z" fill="#f4f4f4" stroke="#444" stroke-width="0.75"/>
<path d="M284.7 180.2 L286.1 182.7 L283.3 182.7 Z" fill="#f4f4f4" stroke="#444" stroke-width="0.75"/>
<path d="M285.1 185.1 L286.5 187.6 L283.7 187.6 Z" fill="#f4f4f4" stroke="#444" stroke-width="0.75"/>
<path d="M285.9 187.5 L287.2 190.0 L284.5 190.0 Z" fill="#f4f4f4" stroke="#444" stroke-width="0.75"/>
<path d="M287.0 184.1 L288.4 186.6 L285.6 186.6 Z" fill="#f4f4f4" stroke="#444" stroke-width="0.75"/>
<path d="M288.2 186.2 L289.6 188.8 L286.8 188.8 Z" fill="#f4f4f4" stroke="#444" stroke-width="0.75"/>
<path d="M289.8 185.1 L291.2 187.6 L288.4 187.6 Z" fill="#f4f4f4" stroke="#444" stroke-width="0.75"/>
<path d="M291.8 186.2 L293.2 188.8 L290.4 188.8 Z" fill="#f4f4f4" stroke="#444" stroke-width="0.75"/>
<path d="M293.8 185.1 L295.1 187.6 L292.4 187.6 Z" fill="#f4f4f4" stroke="#444" stroke-width="0.75"/>
<path d="M295.7 186.0 L297.1 188.5 L294.3 188.5 Z" fill="#f4f4f4" stroke="#444" stroke-width="0.75"/>
<path d="M298.5 186.2 L299.9 188.8 L297.1 188.8 Z" fill="#f4f4f4" stroke="#444" stroke-width="0.75"/>
<path d="M301.6 185.7 L303.0 188.2 L300.2 188.2 Z" fill="#f4f4f4" stroke="#444" stroke-width="0.75"/>
<path d="M304.8 186.5 L306.2 189.0 L303.4 189.0 Z" fill="#f4f4f4" stroke="#444" stroke-width="0.75"/>
<path d="M308.0 186.0 L309.4 188.5 L306.6 188.5 Z" fill="#f4f4f4" stroke="#444" stroke-width="0.75"/>
<path d="M311.5 186.7 L312.9 189.2 L310.1 189.2 Z" fill="#f4f4f4" stroke="#444" stroke-width="0.75"/>
<path d="M315.5 186.2 L316.9 188.8 L314.1 188.8 Z" fill="#f4f4f4" stroke="#444" stroke-width="0.75"/>
<path d="M319.4 185.7 L320.8 188.2 L318.0 188.2 Z" fill="#f4f4f4" stroke="#444" stroke-width="0.75"/>
<path d="M323.4 186.2 L324.8 188.8 L322.0 188.8 Z" fill="#f4f4f4" stroke="#444" stroke-width="0.75"/>
<path d="M327.3 186.5 L328.7 189.0 L325.9 189.0 Z" fill="#f4f4f4" stroke="#444" stroke-width="0.75"/>
<path d="M333.2 186.0 L334.6 188.5 L331.9 188.5 Z" fill="#f4f4f4" stroke="#444" stroke-width="0.75"/>
<path d="M339.2 186.2 L340.6 188.8 L337.8 188.8 Z" fill="#f4f4f4" stroke="#444" stroke-width="0.75"/>
<path d="M345.1 186.7 L346.5 189.2 L343.7 189.2 Z" fill="#f4f4f4" stroke="#444" stroke-width="0.75"/>
<path d="M351.0 186.2 L352.4 188.8 L349.6 188.8 Z" fill="#f4f4f4" stroke="#444" stroke-width="0.75"/>
<path d="M358.9 186.0 L360.3 188.5 L357.5 188.5 Z" fill="#f4f4f4" stroke="#444" stroke-width="0.75"/>
<path d="M368.8 186.2 L370.2 188.8 L367.4 188.8 Z" fill="#f4f4f4" stroke="#444" stroke-width="0.75"/>
<path d="M376.7 186.7 L378.1 189.2 L375.3 189.2 Z" fill="#f4f4f4" stroke="#444" stroke-width="0.75"/>
<path d="M384.6 187.2 L386.0 189.8 L383.2 189.8 Z" fill="#f4f4f4" stroke="#444" stroke-width="0.75"/>
<path d="M155.5 188.9 L155.9 195.5 L156.3 208.5 L157.1 219.7 L158.3 209.6 L159.4 217.5 L160.6 208.5 L161.4 216.3 L162.6 217.5 L163.8 217.3 L165.4 217.8 L167.0 217.8 L168.5 218.1 L170.5 220.0 L172.1 217.8 L173.7 220.0 L176.0 219.7 L178.4 218.1 L180.4 224.4 L183.9 215.1 L187.1 215.8 L190.3 215.8 L193.0 216.7 L195.8 217.3 L199.0 218.1 L202.1 217.3 L204.9 219.0 L207.6 218.4 L211.6 216.7 L214.8 215.1 L217.9 215.3 L220.7 216.7 L230.6 214.9 L240.4 217.5 L249.5 216.7 L262.9 215.3 L263.1 164.5 L263.3 172.3 L263.7 181.6 L264.1 188.9 L264.5 190.4 L265.3 187.6 L266.5 188.1 L267.7 187.6 L269.3 187.9 L271.2 187.6 L273.2 187.4 L277.2 187.4 L279.9 186.5 L283.9 187.6 L287.8 187.1 L293.8 186.5 L297.7 187.1 L307.6 186.0 L317.4 187.6 L327.3 186.5 L337.2 187.1 L347.1 187.6 L355.0 187.4" fill="none" stroke="#222" stroke-width="0.75" stroke-linejoin="round"/>
<circle cx="155.5" cy="188.9" r="1.4" fill="#111"/>
<circle cx="155.9" cy="195.5" r="1.4" fill="#111"/>
<circle cx="156.3" cy="208.5" r="1.4" fill="#111"/>
<circle cx="157.1" cy="219.7" r="1.4" fill="#111"/>
<circle cx="158.3" cy="209.6" r="1.4" fill="#111"/>
<circle cx="159.4" cy="217.5" r="1.4" fill="#111"/>
<circle cx="160.6" cy="208.5" r="1.4" fill="#111"/>
<circle cx="161.4" cy="216.3" r="1.4" fill="#111"/>
<circle cx="162.6" cy="217.5" r="1.4" fill="#111"/>
<circle cx="163.8" cy="217.3" r="1.4" fill="#111"/>
<circle cx="165.4" cy="217.8" r="1.4" fill="#111"/>
<circle cx="167.0" cy="217.8" r="1.4" fill="#111"/>
<circle cx="168.5" cy="218.1" r="1.4" fill="#111"/>
<circle cx="170.5" cy="220.0" r="1.4" fill="#111"/>
<circle cx="172.1" cy="217.8" r="1.4" fill="#111"/>
<circle cx="173.7" cy="220.0" r="1.4" fill="#111"/>
<circle cx="176.0" cy="219.7" r="1.4" fill="#111"/>
<circle cx="178.4" cy="218.1" r="1.4" fill="#111"/>
<circle cx="180.4" cy="224.4" r="1.4" fill="#111"/>
<circle cx="183.9" cy="215.1" r="1.4" fill="#111"/>
<circle cx="187.1" cy="215.8" r="1.4" fill="#111"/>
<circle cx="190.3" cy="215.8" r="1.4" fill="#111"/>
<circle cx="193.0" cy="216.7" r="1.4" fill="#111"/>
<circle cx="195.8" cy="217.3" r="1.4" fill="#111"/>
<circle cx="199.0" cy="218.1" r="1.4" fill="#111"/>
<circle cx="202.1" cy="217.3" r="1.4" fill="#111"/>
<circle cx="204.9" cy="219.0" r="1.4" fill="#111"/>
<circle cx="207.6" cy="218.4" r="1.4" fill="#111"/>
<circle cx="211.6" cy="216.7" r="1.4" fill="#111"/>
<circle cx="214.8" cy="215.1" r="1.4" fill="#111"/>
<circle cx="217.9" cy="215.3" r="1.4" fill="#111"/>
<circle cx="220.7" cy="216.7" r="1.4" fill="#111"/>
<circle cx="230.6" cy="214.9" r="1.4" fill="#111"/>
<circle cx="240.4" cy="217.5" r="1.4" fill="#111"/>
<circle cx="249.5" cy="216.7" r="1.4" fill="#111"/>
<circle cx="262.9" cy="215.3" r="1.4" fill="#111"/>
<circle cx="263.1" cy="164.5" r="1.4" fill="#111"/>
<circle cx="263.3" cy="172.3" r="1.4" fill="#111"/>
<circle cx="263.7" cy="181.6" r="1.4" fill="#111"/>
<circle cx="264.1" cy="188.9" r="1.4" fill="#111"/>
<circle cx="264.5" cy="190.4" r="1.4" fill="#111"/>
<circle cx="265.3" cy="187.6" r="1.4" fill="#111"/>
<circle cx="266.5" cy="188.1" r="1.4" fill="#111"/>
<circle cx="267.7" cy="187.6" r="1.4" fill="#111"/>
<circle cx="269.3" cy="187.9" r="1.4" fill="#111"/>
<circle cx="271.2" cy="187.6" r="1.4" fill="#111"/>
<circle cx="273.2" cy="187.4" r="1.4" fill="#111"/>
<circle cx="277.2" cy="187.4" r="1.4" fill="#111"/>
<circle cx="279.9" cy="186.5" r="1.4" fill="#111"/>
<circle cx="283.9" cy="187.6" r="1.4" fill="#111"/>
<circle cx="287.8" cy="187.1" r="1.4" fill="#111"/>
<circle cx="293.8" cy="186.5" r="1.4" fill="#111"/>
<circle cx="297.7" cy="187.1" r="1.4" fill="#111"/>
<circle cx="307.6" cy="186.0" r="1.4" fill="#111"/>
<circle cx="317.4" cy="187.6" r="1.4" fill="#111"/>
<circle cx="327.3" cy="186.5" r="1.4" fill="#111"/>
<circle cx="337.2" cy="187.1" r="1.4" fill="#111"/>
<circle cx="347.1" cy="187.6" r="1.4" fill="#111"/>
<circle cx="355.0" cy="187.4" r="1.4" fill="#111"/>
<path d="M156.9 221.8 L159.7 227.1 L162.5 224.0 Z" fill="#111"/>
<line x1="161.1" y1="225.5" x2="161.8" y2="226.2" stroke="#111" stroke-width="0.9"/>
<text x="0" y="0" font-size="8.94" text-anchor="start" font-weight="normal" fill="#111" stroke="#111" stroke-width="0.2" transform="translate(162.6,233.2) scale(0.92,1)">AAV2 injection</text>
<text x="0" y="0" font-size="9.05" text-anchor="start" font-weight="normal" fill="#111" stroke="#111" stroke-width="0.2" transform="translate(221.8,232.2) scale(0.92,1)">AAV2/8 injection</text>
<path d="M262.9 219.1 L265.8 224.6 L260.0 224.6 Z" fill="#111"/>
<path d="M285.1 237.9 L287.9 243.2 L282.3 243.2 Z" fill="#111"/>
<text x="0" y="0" font-size="9.05" text-anchor="start" font-weight="normal" fill="#111" stroke="#111" stroke-width="0.2" transform="translate(255.6,250.2) scale(0.92,1)">AAV2/5 injection</text>
<path d="M332.0 202.5 L335.6 207.2 L337.9 203.7 Z" fill="#111"/>
<text x="0" y="0" font-size="9.05" text-anchor="start" font-weight="normal" fill="#111" stroke="#111" stroke-width="0.2" transform="translate(328.7,215.8) scale(0.92,1)">Therapeutic level</text>
<ellipse cx="362.8" cy="230.2" rx="2.8" ry="2.4" fill="#000"/>
<text x="0" y="0" font-size="9.48" text-anchor="start" font-weight="normal" fill="#111" stroke="#111" stroke-width="0.2" transform="translate(373.0,233.4) scale(0.99,1)">D39</text>
<path d="M362.8 238.2 L365.1 242 L360.5 242 Z" fill="#fff" stroke="#444" stroke-width="0.8"/>
<text x="0" y="0" font-size="9.48" text-anchor="start" font-weight="normal" fill="#111" stroke="#111" stroke-width="0.2" transform="translate(373.0,243.7) scale(0.99,1)">C52</text>
<text x="0" y="0" font-size="16.60" text-anchor="start" font-weight="bold" fill="#000" stroke="#000" stroke-width="0.35" transform="translate(0.6,307.3) scale(1.01,1)">D</text>
<rect x="24.0" y="382.3" width="224.0" height="5.1" fill="url(#hatch)"/>
<path d="M23.5 314.5 H248.5 V398.5" fill="none" stroke="#a8a8a8" stroke-width="1"/>
<path d="M23.5 314.5 V398.5 H248.5" fill="none" stroke="#828282" stroke-width="0.9"/>
<line x1="23.5" y1="398.5" x2="23.5" y2="400.2" stroke="#555" stroke-width="0.9"/>
<text x="0" y="0" font-size="9.05" text-anchor="middle" font-weight="normal" fill="#111" stroke="#111" stroke-width="0.2" transform="translate(24.6,408.8) scale(0.92,1)">0</text>
<line x1="61.0" y1="398.5" x2="61.0" y2="400.2" stroke="#555" stroke-width="0.9"/>
<text x="0" y="0" font-size="9.05" text-anchor="middle" font-weight="normal" fill="#111" stroke="#111" stroke-width="0.2" transform="translate(62.1,408.8) scale(0.92,1)">1</text>
<line x1="98.5" y1="398.5" x2="98.5" y2="400.2" stroke="#555" stroke-width="0.9"/>
<text x="0" y="0" font-size="9.05" text-anchor="middle" font-weight="normal" fill="#111" stroke="#111" stroke-width="0.2" transform="translate(99.6,408.8) scale(0.92,1)">2</text>
<line x1="136.0" y1="398.5" x2="136.0" y2="400.2" stroke="#555" stroke-width="0.9"/>
<text x="0" y="0" font-size="9.05" text-anchor="middle" font-weight="normal" fill="#111" stroke="#111" stroke-width="0.2" transform="translate(137.1,408.8) scale(0.92,1)">3</text>
<line x1="173.5" y1="398.5" x2="173.5" y2="400.2" stroke="#555" stroke-width="0.9"/>
<text x="0" y="0" font-size="9.05" text-anchor="middle" font-weight="normal" fill="#111" stroke="#111" stroke-width="0.2" transform="translate(174.6,408.8) scale(0.92,1)">4</text>
<line x1="211.0" y1="398.5" x2="211.0" y2="400.2" stroke="#555" stroke-width="0.9"/>
<text x="0" y="0" font-size="9.05" text-anchor="middle" font-weight="normal" fill="#111" stroke="#111" stroke-width="0.2" transform="translate(212.1,408.8) scale(0.92,1)">5</text>
<line x1="248.5" y1="398.5" x2="248.5" y2="400.2" stroke="#555" stroke-width="0.9"/>
<text x="0" y="0" font-size="9.05" text-anchor="middle" font-weight="normal" fill="#111" stroke="#111" stroke-width="0.2" transform="translate(249.6,408.8) scale(0.92,1)">6</text>
<line x1="32.9" y1="398.5" x2="32.9" y2="399.8" stroke="#666" stroke-width="0.7"/>
<line x1="42.2" y1="398.5" x2="42.2" y2="399.8" stroke="#666" stroke-width="0.7"/>
<line x1="51.6" y1="398.5" x2="51.6" y2="399.8" stroke="#666" stroke-width="0.7"/>
<line x1="70.4" y1="398.5" x2="70.4" y2="399.8" stroke="#666" stroke-width="0.7"/>
<line x1="79.8" y1="398.5" x2="79.8" y2="399.8" stroke="#666" stroke-width="0.7"/>
<line x1="89.1" y1="398.5" x2="89.1" y2="399.8" stroke="#666" stroke-width="0.7"/>
<line x1="107.9" y1="398.5" x2="107.9" y2="399.8" stroke="#666" stroke-width="0.7"/>
<line x1="117.2" y1="398.5" x2="117.2" y2="399.8" stroke="#666" stroke-width="0.7"/>
<line x1="126.6" y1="398.5" x2="126.6" y2="399.8" stroke="#666" stroke-width="0.7"/>
<line x1="145.4" y1="398.5" x2="145.4" y2="399.8" stroke="#666" stroke-width="0.7"/>
<line x1="154.8" y1="398.5" x2="154.8" y2="399.8" stroke="#666" stroke-width="0.7"/>
<line x1="164.1" y1="398.5" x2="164.1" y2="399.8" stroke="#666" stroke-width="0.7"/>
<line x1="182.9" y1="398.5" x2="182.9" y2="399.8" stroke="#666" stroke-width="0.7"/>
<line x1="192.2" y1="398.5" x2="192.2" y2="399.8" stroke="#666" stroke-width="0.7"/>
<line x1="201.6" y1="398.5" x2="201.6" y2="399.8" stroke="#666" stroke-width="0.7"/>
<line x1="220.4" y1="398.5" x2="220.4" y2="399.8" stroke="#666" stroke-width="0.7"/>
<line x1="229.8" y1="398.5" x2="229.8" y2="399.8" stroke="#666" stroke-width="0.7"/>
<line x1="239.1" y1="398.5" x2="239.1" y2="399.8" stroke="#666" stroke-width="0.7"/>
<line x1="21.9" y1="398.5" x2="23.5" y2="398.5" stroke="#555" stroke-width="0.8"/>
<text x="0" y="0" font-size="9.05" text-anchor="end" font-weight="normal" fill="#111" stroke="#111" stroke-width="0.2" transform="translate(21.6,402.9) scale(0.92,1)">0</text>
<line x1="21.9" y1="385.8" x2="23.5" y2="385.8" stroke="#555" stroke-width="0.8"/>
<text x="0" y="0" font-size="9.05" text-anchor="end" font-weight="normal" fill="#111" stroke="#111" stroke-width="0.2" transform="translate(21.6,390.2) scale(0.92,1)">10</text>
<line x1="21.9" y1="373.2" x2="23.5" y2="373.2" stroke="#555" stroke-width="0.8"/>
<text x="0" y="0" font-size="9.05" text-anchor="end" font-weight="normal" fill="#111" stroke="#111" stroke-width="0.2" transform="translate(21.6,377.6) scale(0.92,1)">20</text>
<line x1="21.9" y1="360.5" x2="23.5" y2="360.5" stroke="#555" stroke-width="0.8"/>
<text x="0" y="0" font-size="9.05" text-anchor="end" font-weight="normal" fill="#111" stroke="#111" stroke-width="0.2" transform="translate(21.6,364.9) scale(0.92,1)">30</text>
<line x1="21.9" y1="347.8" x2="23.5" y2="347.8" stroke="#555" stroke-width="0.8"/>
<text x="0" y="0" font-size="9.05" text-anchor="end" font-weight="normal" fill="#111" stroke="#111" stroke-width="0.2" transform="translate(21.6,352.2) scale(0.92,1)">40</text>
<line x1="21.9" y1="335.2" x2="23.5" y2="335.2" stroke="#555" stroke-width="0.8"/>
<text x="0" y="0" font-size="9.05" text-anchor="end" font-weight="normal" fill="#111" stroke="#111" stroke-width="0.2" transform="translate(21.6,339.6) scale(0.92,1)">50</text>
<line x1="21.9" y1="322.5" x2="23.5" y2="322.5" stroke="#555" stroke-width="0.8"/>
<text x="0" y="0" font-size="9.05" text-anchor="end" font-weight="normal" fill="#111" stroke="#111" stroke-width="0.2" transform="translate(21.6,326.9) scale(0.92,1)">&gt;60</text>
<text x="0" y="0" font-size="9.27" text-anchor="middle" font-weight="normal" fill="#111" stroke="#111" stroke-width="0.2" transform="translate(8,357) rotate(-90) scale(0.92,1)">WBCT (min)</text>
<text x="0" y="0" font-size="9.37" text-anchor="middle" font-weight="normal" fill="#111" stroke="#111" stroke-width="0.2" transform="translate(138.7,417.4) scale(0.92,1)">Years</text>
<path d="M23.5 345.3 L23.9 379.5 L24.6 377.5 L25.4 378.9 L26.5 376.5 L27.2 378.2 L28.0 379.6 L28.8 377.6 L29.5 374.9 L30.2 378.2 L31.0 380.6 L31.8 378.2 L32.5 376.5 L33.6 375.7 L34.8 375.3 L35.9 376.3 L36.6 377.5 L37.4 380.8 L38.1 382.8 L38.9 381.4 L39.6 379.6 L40.4 377.0 L41.1 375.3 L42.2 374.4 L43.0 374.3 L43.8 375.7 L44.5 376.5 L45.2 379.5 L45.6 381.8 L46.8 379.5 L47.5 377.5 L48.2 375.7 L49.0 374.3 L49.8 375.7 L50.5 377.5 L51.2 379.5 L52.0 381.8 L53.1 378.2 L53.9 374.9 L55.0 378.5 L55.8 380.1 L56.5 381.8 L58.0 382.8 L59.1 382.0 L59.9 381.3 L61.4 382.8 L62.1 381.3 L62.9 379.6 L64.4 381.8 L65.5 379.5 L66.2 377.5 L67.8 379.6 L68.9 381.8 L70.8 383.8 L72.2 380.6 L74.5 379.6 L77.1 379.1 L79.8 377.5 L82.4 376.5 L84.6 378.5 L87.6 375.8 L91.0 377.1 L92.9 374.9 L95.1 386.3 L97.8 379.6 L100.0 377.5 L102.6 376.5 L104.5 374.9 L107.9 377.2 L111.2 370.0 L113.9 359.5 L124.0 379.5 L132.6 366.8 L139.0 368.1 L142.8 370.6 L144.6 373.2 L145.0 384.6 L145.4 382.0 L146.1 379.5 L147.2 382.0 L148.4 378.2 L149.5 382.0 L151.0 379.5 L152.5 382.0 L154.4 380.8 L156.6 382.0 L159.6 382.7 L163.4 383.3 L167.1 382.0 L170.9 383.3 L174.6 382.7 L178.4 382.0 L182.9 384.6 L187.8 382.0 L197.1 380.1 L206.5 380.8 L215.9 380.1 L225.2 378.2 L234.6 374.4 L241.4 377.0" fill="none" stroke="#555" stroke-width="0.8" stroke-linejoin="round"/>
<path d="M23.5 343.9 L24.9 346.4 L22.1 346.4 Z" fill="#f4f4f4" stroke="#4a4a4a" stroke-width="0.75"/>
<path d="M23.9 378.1 L25.3 380.6 L22.5 380.6 Z" fill="#f4f4f4" stroke="#4a4a4a" stroke-width="0.75"/>
<path d="M24.6 376.1 L26.0 378.6 L23.2 378.6 Z" fill="#f4f4f4" stroke="#4a4a4a" stroke-width="0.75"/>
<path d="M25.4 377.5 L26.8 380.0 L24.0 380.0 Z" fill="#f4f4f4" stroke="#4a4a4a" stroke-width="0.75"/>
<path d="M26.5 375.1 L27.9 377.6 L25.1 377.6 Z" fill="#f4f4f4" stroke="#4a4a4a" stroke-width="0.75"/>
<path d="M27.2 376.8 L28.6 379.4 L25.9 379.4 Z" fill="#f4f4f4" stroke="#4a4a4a" stroke-width="0.75"/>
<path d="M28.0 378.2 L29.4 380.7 L26.6 380.7 Z" fill="#f4f4f4" stroke="#4a4a4a" stroke-width="0.75"/>
<path d="M28.8 376.2 L30.1 378.7 L27.4 378.7 Z" fill="#f4f4f4" stroke="#4a4a4a" stroke-width="0.75"/>
<path d="M29.5 373.5 L30.9 376.1 L28.1 376.1 Z" fill="#f4f4f4" stroke="#4a4a4a" stroke-width="0.75"/>
<path d="M30.2 376.8 L31.6 379.4 L28.9 379.4 Z" fill="#f4f4f4" stroke="#4a4a4a" stroke-width="0.75"/>
<path d="M31.0 379.2 L32.4 381.8 L29.6 381.8 Z" fill="#f4f4f4" stroke="#4a4a4a" stroke-width="0.75"/>
<path d="M31.8 376.8 L33.1 379.4 L30.4 379.4 Z" fill="#f4f4f4" stroke="#4a4a4a" stroke-width="0.75"/>
<path d="M32.5 375.1 L33.9 377.6 L31.1 377.6 Z" fill="#f4f4f4" stroke="#4a4a4a" stroke-width="0.75"/>
<path d="M33.6 374.3 L35.0 376.8 L32.2 376.8 Z" fill="#f4f4f4" stroke="#4a4a4a" stroke-width="0.75"/>
<path d="M34.8 373.9 L36.1 376.4 L33.4 376.4 Z" fill="#f4f4f4" stroke="#4a4a4a" stroke-width="0.75"/>
<path d="M35.9 374.9 L37.3 377.5 L34.5 377.5 Z" fill="#f4f4f4" stroke="#4a4a4a" stroke-width="0.75"/>
<path d="M36.6 376.1 L38.0 378.6 L35.2 378.6 Z" fill="#f4f4f4" stroke="#4a4a4a" stroke-width="0.75"/>
<path d="M37.4 379.4 L38.8 381.9 L36.0 381.9 Z" fill="#f4f4f4" stroke="#4a4a4a" stroke-width="0.75"/>
<path d="M38.1 381.4 L39.5 383.9 L36.7 383.9 Z" fill="#f4f4f4" stroke="#4a4a4a" stroke-width="0.75"/>
<path d="M38.9 380.0 L40.3 382.5 L37.5 382.5 Z" fill="#f4f4f4" stroke="#4a4a4a" stroke-width="0.75"/>
<path d="M39.6 378.2 L41.0 380.7 L38.2 380.7 Z" fill="#f4f4f4" stroke="#4a4a4a" stroke-width="0.75"/>
<path d="M40.4 375.6 L41.8 378.1 L39.0 378.1 Z" fill="#f4f4f4" stroke="#4a4a4a" stroke-width="0.75"/>
<path d="M41.1 373.9 L42.5 376.4 L39.7 376.4 Z" fill="#f4f4f4" stroke="#4a4a4a" stroke-width="0.75"/>
<path d="M42.2 373.0 L43.6 375.6 L40.9 375.6 Z" fill="#f4f4f4" stroke="#4a4a4a" stroke-width="0.75"/>
<path d="M43.0 372.9 L44.4 375.4 L41.6 375.4 Z" fill="#f4f4f4" stroke="#4a4a4a" stroke-width="0.75"/>
<path d="M43.8 374.3 L45.1 376.8 L42.4 376.8 Z" fill="#f4f4f4" stroke="#4a4a4a" stroke-width="0.75"/>
<path d="M44.5 375.1 L45.9 377.6 L43.1 377.6 Z" fill="#f4f4f4" stroke="#4a4a4a" stroke-width="0.75"/>
<path d="M45.2 378.1 L46.6 380.6 L43.9 380.6 Z" fill="#f4f4f4" stroke="#4a4a4a" stroke-width="0.75"/>
<path d="M45.6 380.4 L47.0 382.9 L44.2 382.9 Z" fill="#f4f4f4" stroke="#4a4a4a" stroke-width="0.75"/>
<path d="M46.8 378.1 L48.1 380.6 L45.4 380.6 Z" fill="#f4f4f4" stroke="#4a4a4a" stroke-width="0.75"/>
<path d="M47.5 376.1 L48.9 378.6 L46.1 378.6 Z" fill="#f4f4f4" stroke="#4a4a4a" stroke-width="0.75"/>
<path d="M48.2 374.3 L49.6 376.8 L46.9 376.8 Z" fill="#f4f4f4" stroke="#4a4a4a" stroke-width="0.75"/>
<path d="M49.0 372.9 L50.4 375.4 L47.6 375.4 Z" fill="#f4f4f4" stroke="#4a4a4a" stroke-width="0.75"/>
<path d="M49.8 374.3 L51.1 376.8 L48.4 376.8 Z" fill="#f4f4f4" stroke="#4a4a4a" stroke-width="0.75"/>
<path d="M50.5 376.1 L51.9 378.6 L49.1 378.6 Z" fill="#f4f4f4" stroke="#4a4a4a" stroke-width="0.75"/>
<path d="M51.2 378.1 L52.6 380.6 L49.9 380.6 Z" fill="#f4f4f4" stroke="#4a4a4a" stroke-width="0.75"/>
<path d="M52.0 380.4 L53.4 382.9 L50.6 382.9 Z" fill="#f4f4f4" stroke="#4a4a4a" stroke-width="0.75"/>
<path d="M53.1 376.8 L54.5 379.4 L51.7 379.4 Z" fill="#f4f4f4" stroke="#4a4a4a" stroke-width="0.75"/>
<path d="M53.9 373.5 L55.3 376.1 L52.5 376.1 Z" fill="#f4f4f4" stroke="#4a4a4a" stroke-width="0.75"/>
<path d="M55.0 377.1 L56.4 379.6 L53.6 379.6 Z" fill="#f4f4f4" stroke="#4a4a4a" stroke-width="0.75"/>
<path d="M55.8 378.7 L57.1 381.3 L54.4 381.3 Z" fill="#f4f4f4" stroke="#4a4a4a" stroke-width="0.75"/>
<path d="M56.5 380.4 L57.9 382.9 L55.1 382.9 Z" fill="#f4f4f4" stroke="#4a4a4a" stroke-width="0.75"/>
<path d="M58.0 381.4 L59.4 383.9 L56.6 383.9 Z" fill="#f4f4f4" stroke="#4a4a4a" stroke-width="0.75"/>
<path d="M59.1 380.6 L60.5 383.2 L57.7 383.2 Z" fill="#f4f4f4" stroke="#4a4a4a" stroke-width="0.75"/>
<path d="M59.9 379.9 L61.3 382.4 L58.5 382.4 Z" fill="#f4f4f4" stroke="#4a4a4a" stroke-width="0.75"/>
<path d="M61.4 381.4 L62.8 383.9 L60.0 383.9 Z" fill="#f4f4f4" stroke="#4a4a4a" stroke-width="0.75"/>
<path d="M62.1 379.9 L63.5 382.4 L60.7 382.4 Z" fill="#f4f4f4" stroke="#4a4a4a" stroke-width="0.75"/>
<path d="M62.9 378.2 L64.3 380.7 L61.5 380.7 Z" fill="#f4f4f4" stroke="#4a4a4a" stroke-width="0.75"/>
<path d="M64.4 380.4 L65.8 382.9 L63.0 382.9 Z" fill="#f4f4f4" stroke="#4a4a4a" stroke-width="0.75"/>
<path d="M65.5 378.1 L66.9 380.6 L64.1 380.6 Z" fill="#f4f4f4" stroke="#4a4a4a" stroke-width="0.75"/>
<path d="M66.2 376.1 L67.7 378.6 L64.8 378.6 Z" fill="#f4f4f4" stroke="#4a4a4a" stroke-width="0.75"/>
<path d="M67.8 378.2 L69.2 380.7 L66.3 380.7 Z" fill="#f4f4f4" stroke="#4a4a4a" stroke-width="0.75"/>
<path d="M68.9 380.4 L70.3 382.9 L67.5 382.9 Z" fill="#f4f4f4" stroke="#4a4a4a" stroke-width="0.75"/>
<path d="M70.8 382.4 L72.2 384.9 L69.3 384.9 Z" fill="#f4f4f4" stroke="#4a4a4a" stroke-width="0.75"/>
<path d="M72.2 379.2 L73.7 381.8 L70.8 381.8 Z" fill="#f4f4f4" stroke="#4a4a4a" stroke-width="0.75"/>
<path d="M74.5 378.2 L75.9 380.7 L73.1 380.7 Z" fill="#f4f4f4" stroke="#4a4a4a" stroke-width="0.75"/>
<path d="M77.1 377.7 L78.5 380.2 L75.7 380.2 Z" fill="#f4f4f4" stroke="#4a4a4a" stroke-width="0.75"/>
<path d="M79.8 376.1 L81.2 378.6 L78.3 378.6 Z" fill="#f4f4f4" stroke="#4a4a4a" stroke-width="0.75"/>
<path d="M82.4 375.1 L83.8 377.6 L81.0 377.6 Z" fill="#f4f4f4" stroke="#4a4a4a" stroke-width="0.75"/>
<path d="M84.6 377.1 L86.0 379.6 L83.2 379.6 Z" fill="#f4f4f4" stroke="#4a4a4a" stroke-width="0.75"/>
<path d="M87.6 374.4 L89.0 376.9 L86.2 376.9 Z" fill="#f4f4f4" stroke="#4a4a4a" stroke-width="0.75"/>
<path d="M91.0 375.7 L92.4 378.2 L89.6 378.2 Z" fill="#f4f4f4" stroke="#4a4a4a" stroke-width="0.75"/>
<path d="M92.9 373.5 L94.3 376.1 L91.5 376.1 Z" fill="#f4f4f4" stroke="#4a4a4a" stroke-width="0.75"/>
<path d="M95.1 384.9 L96.5 387.5 L93.7 387.5 Z" fill="#f4f4f4" stroke="#4a4a4a" stroke-width="0.75"/>
<path d="M97.8 378.2 L99.2 380.7 L96.3 380.7 Z" fill="#f4f4f4" stroke="#4a4a4a" stroke-width="0.75"/>
<path d="M100.0 376.1 L101.4 378.6 L98.6 378.6 Z" fill="#f4f4f4" stroke="#4a4a4a" stroke-width="0.75"/>
<path d="M102.6 375.1 L104.0 377.6 L101.2 377.6 Z" fill="#f4f4f4" stroke="#4a4a4a" stroke-width="0.75"/>
<path d="M104.5 373.5 L105.9 376.1 L103.1 376.1 Z" fill="#f4f4f4" stroke="#4a4a4a" stroke-width="0.75"/>
<path d="M107.9 375.8 L109.3 378.3 L106.5 378.3 Z" fill="#f4f4f4" stroke="#4a4a4a" stroke-width="0.75"/>
<path d="M111.2 368.6 L112.7 371.1 L109.8 371.1 Z" fill="#f4f4f4" stroke="#4a4a4a" stroke-width="0.75"/>
<path d="M113.9 358.1 L115.3 360.6 L112.5 360.6 Z" fill="#f4f4f4" stroke="#4a4a4a" stroke-width="0.75"/>
<path d="M124.0 378.1 L125.4 380.6 L122.6 380.6 Z" fill="#f4f4f4" stroke="#4a4a4a" stroke-width="0.75"/>
<path d="M132.6 365.4 L134.0 368.0 L131.2 368.0 Z" fill="#f4f4f4" stroke="#4a4a4a" stroke-width="0.75"/>
<path d="M139.0 366.7 L140.4 369.2 L137.6 369.2 Z" fill="#f4f4f4" stroke="#4a4a4a" stroke-width="0.75"/>
<path d="M142.8 369.2 L144.2 371.8 L141.3 371.8 Z" fill="#f4f4f4" stroke="#4a4a4a" stroke-width="0.75"/>
<path d="M144.6 371.8 L146.0 374.3 L143.2 374.3 Z" fill="#f4f4f4" stroke="#4a4a4a" stroke-width="0.75"/>
<path d="M145.0 383.2 L146.4 385.7 L143.6 385.7 Z" fill="#f4f4f4" stroke="#4a4a4a" stroke-width="0.75"/>
<path d="M145.4 380.6 L146.8 383.2 L144.0 383.2 Z" fill="#f4f4f4" stroke="#4a4a4a" stroke-width="0.75"/>
<path d="M146.1 378.1 L147.5 380.6 L144.7 380.6 Z" fill="#f4f4f4" stroke="#4a4a4a" stroke-width="0.75"/>
<path d="M147.2 380.6 L148.7 383.2 L145.8 383.2 Z" fill="#f4f4f4" stroke="#4a4a4a" stroke-width="0.75"/>
<path d="M148.4 376.8 L149.8 379.4 L147.0 379.4 Z" fill="#f4f4f4" stroke="#4a4a4a" stroke-width="0.75"/>
<path d="M149.5 380.6 L150.9 383.2 L148.1 383.2 Z" fill="#f4f4f4" stroke="#4a4a4a" stroke-width="0.75"/>
<path d="M151.0 378.1 L152.4 380.6 L149.6 380.6 Z" fill="#f4f4f4" stroke="#4a4a4a" stroke-width="0.75"/>
<path d="M152.5 380.6 L153.9 383.2 L151.1 383.2 Z" fill="#f4f4f4" stroke="#4a4a4a" stroke-width="0.75"/>
<path d="M154.4 379.4 L155.8 381.9 L153.0 381.9 Z" fill="#f4f4f4" stroke="#4a4a4a" stroke-width="0.75"/>
<path d="M156.6 380.6 L158.0 383.2 L155.2 383.2 Z" fill="#f4f4f4" stroke="#4a4a4a" stroke-width="0.75"/>
<path d="M159.6 381.3 L161.0 383.8 L158.2 383.8 Z" fill="#f4f4f4" stroke="#4a4a4a" stroke-width="0.75"/>
<path d="M163.4 381.9 L164.8 384.4 L162.0 384.4 Z" fill="#f4f4f4" stroke="#4a4a4a" stroke-width="0.75"/>
<path d="M167.1 380.6 L168.5 383.2 L165.7 383.2 Z" fill="#f4f4f4" stroke="#4a4a4a" stroke-width="0.75"/>
<path d="M170.9 381.9 L172.3 384.4 L169.5 384.4 Z" fill="#f4f4f4" stroke="#4a4a4a" stroke-width="0.75"/>
<path d="M174.6 381.3 L176.0 383.8 L173.2 383.8 Z" fill="#f4f4f4" stroke="#4a4a4a" stroke-width="0.75"/>
<path d="M178.4 380.6 L179.8 383.2 L177.0 383.2 Z" fill="#f4f4f4" stroke="#4a4a4a" stroke-width="0.75"/>
<path d="M182.9 383.2 L184.3 385.7 L181.5 385.7 Z" fill="#f4f4f4" stroke="#4a4a4a" stroke-width="0.75"/>
<path d="M187.8 380.6 L189.2 383.2 L186.3 383.2 Z" fill="#f4f4f4" stroke="#4a4a4a" stroke-width="0.75"/>
<path d="M197.1 378.7 L198.5 381.3 L195.7 381.3 Z" fill="#f4f4f4" stroke="#4a4a4a" stroke-width="0.75"/>
<path d="M206.5 379.4 L207.9 381.9 L205.1 381.9 Z" fill="#f4f4f4" stroke="#4a4a4a" stroke-width="0.75"/>
<path d="M215.9 378.7 L217.3 381.3 L214.5 381.3 Z" fill="#f4f4f4" stroke="#4a4a4a" stroke-width="0.75"/>
<path d="M225.2 376.8 L226.7 379.4 L223.8 379.4 Z" fill="#f4f4f4" stroke="#4a4a4a" stroke-width="0.75"/>
<path d="M234.6 373.0 L236.0 375.6 L233.2 375.6 Z" fill="#f4f4f4" stroke="#4a4a4a" stroke-width="0.75"/>
<path d="M241.4 375.6 L242.8 378.1 L240.0 378.1 Z" fill="#f4f4f4" stroke="#4a4a4a" stroke-width="0.75"/>
<path d="M144.6 388.4 L147.4 393.7 L141.8 393.7 Z" fill="#111"/>
<line x1="144.6" y1="380.8" x2="144.6" y2="389.6" stroke="#222" stroke-width="0.9"/>
<path d="M25.8 342.4 L30.2 337.8 L31 342.2 Z" fill="#111"/>
<line x1="30.5" y1="339.8" x2="32" y2="338.8" stroke="#111" stroke-width="0.9"/>
<text x="0" y="0" font-size="8.72" text-anchor="start" font-weight="normal" fill="#111" stroke="#111" stroke-width="0.2" transform="translate(32.2,342.0) scale(0.92,1)">Pretreatment</text>
<path d="M24.9 366.5 L27.1 366.5 L26.0 369.3 Z" fill="#666" stroke="#2a2a2a" stroke-width="0.7"/>
<path d="M26.9 366.5 L29.1 366.5 L28.0 369.3 Z" fill="#666" stroke="#2a2a2a" stroke-width="0.7"/>
<path d="M94.2 367.0 L96.8 367.0 L95.5 370.2 Z" fill="#666" stroke="#2a2a2a" stroke-width="0.7"/>
<path d="M23.5 391.0 L27.3 395.9 L29.6 392.2 Z" fill="#111"/>
<line x1="28.4" y1="394.1" x2="29.3" y2="394.6" stroke="#111" stroke-width="0.9"/>
<text x="0" y="0" font-size="8.83" text-anchor="start" font-weight="normal" fill="#111" stroke="#111" stroke-width="0.2" transform="translate(30.2,396.4) scale(0.92,1)">AAV2 injection</text>
<text x="0" y="0" font-size="8.72" text-anchor="start" font-weight="normal" fill="#111" stroke="#111" stroke-width="0.2" transform="translate(148.8,396.2) scale(0.92,1)">AAV2/5 injection</text>
<path d="M221.5 319.6 L223.7 323.4 L219.3 323.4 Z" fill="#fff" stroke="#222" stroke-width="1.1"/>
<text x="0" y="0" font-size="10.14" text-anchor="start" font-weight="normal" fill="#111" stroke="#111" stroke-width="0.2" transform="translate(227.5,326.0) scale(0.94,1)">C52</text>
<text x="0" y="0" font-size="15.80" text-anchor="start" font-weight="bold" fill="#000" stroke="#000" stroke-width="0.35" transform="translate(261.3,307.4) scale(1.05,1)">E</text>
<rect x="291.0" y="380.8" width="224.0" height="3.8" fill="url(#hatch)"/>
<path d="M290.5 317.5 H515.5 V398.5" fill="none" stroke="#a8a8a8" stroke-width="1"/>
<path d="M290.5 317.5 V398.5 H515.5" fill="none" stroke="#828282" stroke-width="0.9"/>
<line x1="290.5" y1="398.5" x2="290.5" y2="400.2" stroke="#555" stroke-width="0.9"/>
<text x="0" y="0" font-size="9.05" text-anchor="middle" font-weight="normal" fill="#111" stroke="#111" stroke-width="0.2" transform="translate(291.6,408.3) scale(0.92,1)">0</text>
<line x1="328.0" y1="398.5" x2="328.0" y2="400.2" stroke="#555" stroke-width="0.9"/>
<text x="0" y="0" font-size="9.05" text-anchor="middle" font-weight="normal" fill="#111" stroke="#111" stroke-width="0.2" transform="translate(329.1,408.3) scale(0.92,1)">1</text>
<line x1="365.5" y1="398.5" x2="365.5" y2="400.2" stroke="#555" stroke-width="0.9"/>
<text x="0" y="0" font-size="9.05" text-anchor="middle" font-weight="normal" fill="#111" stroke="#111" stroke-width="0.2" transform="translate(366.6,408.3) scale(0.92,1)">2</text>
<line x1="403.0" y1="398.5" x2="403.0" y2="400.2" stroke="#555" stroke-width="0.9"/>
<text x="0" y="0" font-size="9.05" text-anchor="middle" font-weight="normal" fill="#111" stroke="#111" stroke-width="0.2" transform="translate(404.1,408.3) scale(0.92,1)">3</text>
<line x1="440.5" y1="398.5" x2="440.5" y2="400.2" stroke="#555" stroke-width="0.9"/>
<text x="0" y="0" font-size="9.05" text-anchor="middle" font-weight="normal" fill="#111" stroke="#111" stroke-width="0.2" transform="translate(441.6,408.3) scale(0.92,1)">4</text>
<line x1="478.0" y1="398.5" x2="478.0" y2="400.2" stroke="#555" stroke-width="0.9"/>
<text x="0" y="0" font-size="9.05" text-anchor="middle" font-weight="normal" fill="#111" stroke="#111" stroke-width="0.2" transform="translate(479.1,408.3) scale(0.92,1)">5</text>
<line x1="515.5" y1="398.5" x2="515.5" y2="400.2" stroke="#555" stroke-width="0.9"/>
<text x="0" y="0" font-size="9.05" text-anchor="middle" font-weight="normal" fill="#111" stroke="#111" stroke-width="0.2" transform="translate(516.6,408.3) scale(0.92,1)">6</text>
<line x1="299.9" y1="398.5" x2="299.9" y2="399.8" stroke="#666" stroke-width="0.7"/>
<line x1="309.2" y1="398.5" x2="309.2" y2="399.8" stroke="#666" stroke-width="0.7"/>
<line x1="318.6" y1="398.5" x2="318.6" y2="399.8" stroke="#666" stroke-width="0.7"/>
<line x1="337.4" y1="398.5" x2="337.4" y2="399.8" stroke="#666" stroke-width="0.7"/>
<line x1="346.8" y1="398.5" x2="346.8" y2="399.8" stroke="#666" stroke-width="0.7"/>
<line x1="356.1" y1="398.5" x2="356.1" y2="399.8" stroke="#666" stroke-width="0.7"/>
<line x1="374.9" y1="398.5" x2="374.9" y2="399.8" stroke="#666" stroke-width="0.7"/>
<line x1="384.2" y1="398.5" x2="384.2" y2="399.8" stroke="#666" stroke-width="0.7"/>
<line x1="393.6" y1="398.5" x2="393.6" y2="399.8" stroke="#666" stroke-width="0.7"/>
<line x1="412.4" y1="398.5" x2="412.4" y2="399.8" stroke="#666" stroke-width="0.7"/>
<line x1="421.8" y1="398.5" x2="421.8" y2="399.8" stroke="#666" stroke-width="0.7"/>
<line x1="431.1" y1="398.5" x2="431.1" y2="399.8" stroke="#666" stroke-width="0.7"/>
<line x1="449.9" y1="398.5" x2="449.9" y2="399.8" stroke="#666" stroke-width="0.7"/>
<line x1="459.2" y1="398.5" x2="459.2" y2="399.8" stroke="#666" stroke-width="0.7"/>
<line x1="468.6" y1="398.5" x2="468.6" y2="399.8" stroke="#666" stroke-width="0.7"/>
<line x1="487.4" y1="398.5" x2="487.4" y2="399.8" stroke="#666" stroke-width="0.7"/>
<line x1="496.8" y1="398.5" x2="496.8" y2="399.8" stroke="#666" stroke-width="0.7"/>
<line x1="506.1" y1="398.5" x2="506.1" y2="399.8" stroke="#666" stroke-width="0.7"/>
<line x1="288.9" y1="398.5" x2="290.5" y2="398.5" stroke="#555" stroke-width="0.8"/>
<text x="0" y="0" font-size="9.05" text-anchor="end" font-weight="normal" fill="#111" stroke="#111" stroke-width="0.2" transform="translate(288.0,401.5) scale(0.87,1)">0</text>
<line x1="288.9" y1="388.4" x2="290.5" y2="388.4" stroke="#555" stroke-width="0.8"/>
<text x="0" y="0" font-size="9.05" text-anchor="end" font-weight="normal" fill="#111" stroke="#111" stroke-width="0.2" transform="translate(288.0,391.4) scale(0.87,1)">20</text>
<line x1="288.9" y1="378.2" x2="290.5" y2="378.2" stroke="#555" stroke-width="0.8"/>
<text x="0" y="0" font-size="9.05" text-anchor="end" font-weight="normal" fill="#111" stroke="#111" stroke-width="0.2" transform="translate(288.0,381.2) scale(0.87,1)">40</text>
<line x1="288.9" y1="368.1" x2="290.5" y2="368.1" stroke="#555" stroke-width="0.8"/>
<text x="0" y="0" font-size="9.05" text-anchor="end" font-weight="normal" fill="#111" stroke="#111" stroke-width="0.2" transform="translate(288.0,371.1) scale(0.87,1)">60</text>
<line x1="288.9" y1="358.0" x2="290.5" y2="358.0" stroke="#555" stroke-width="0.8"/>
<text x="0" y="0" font-size="9.05" text-anchor="end" font-weight="normal" fill="#111" stroke="#111" stroke-width="0.2" transform="translate(288.0,361.0) scale(0.87,1)">80</text>
<line x1="288.9" y1="347.9" x2="290.5" y2="347.9" stroke="#555" stroke-width="0.8"/>
<text x="0" y="0" font-size="9.05" text-anchor="end" font-weight="normal" fill="#111" stroke="#111" stroke-width="0.2" transform="translate(288.0,350.9) scale(0.87,1)">100</text>
<line x1="288.9" y1="337.8" x2="290.5" y2="337.8" stroke="#555" stroke-width="0.8"/>
<text x="0" y="0" font-size="9.05" text-anchor="end" font-weight="normal" fill="#111" stroke="#111" stroke-width="0.2" transform="translate(288.0,340.8) scale(0.87,1)">120</text>
<line x1="288.9" y1="327.6" x2="290.5" y2="327.6" stroke="#555" stroke-width="0.8"/>
<text x="0" y="0" font-size="9.05" text-anchor="end" font-weight="normal" fill="#111" stroke="#111" stroke-width="0.2" transform="translate(288.0,330.6) scale(0.87,1)">140</text>
<line x1="288.9" y1="317.5" x2="290.5" y2="317.5" stroke="#555" stroke-width="0.8"/>
<text x="0" y="0" font-size="9.05" text-anchor="end" font-weight="normal" fill="#111" stroke="#111" stroke-width="0.2" transform="translate(288.0,320.5) scale(0.87,1)">160</text>
<text x="0" y="0" font-size="7.90" text-anchor="middle" font-weight="normal" fill="#111" stroke="#111" stroke-width="0.2" transform="translate(272.4,357.8) rotate(-90) scale(1.12,1)">aPTT (s)</text>
<text x="0" y="0" font-size="9.37" text-anchor="middle" font-weight="normal" fill="#111" stroke="#111" stroke-width="0.2" transform="translate(404.0,416.8) scale(0.92,1)">Years</text>
<path d="M290.5 332.7 L290.9 355.5 L291.2 352.9 L291.6 358.0 L292.0 353.9 L292.8 359.0 L293.5 352.9 L294.2 350.4 L295.0 355.5 L295.8 337.8 L296.5 353.9 L297.6 355.0 L298.8 355.5 L300.2 352.9 L301.8 350.4 L302.9 347.9 L304.0 351.9 L306.2 345.3 L307.8 350.4 L309.2 341.8 L310.8 345.3 L312.2 342.8 L313.8 325.1 L315.2 347.9 L316.8 360.5 L318.2 363.1 L319.8 355.5 L321.2 350.4 L322.8 358.0 L324.2 352.9 L325.8 360.5 L326.9 341.8 L328.0 363.1 L329.5 367.1 L331.0 363.1 L332.5 365.6 L334.0 363.1 L335.5 361.0 L337.0 360.0 L338.5 362.1 L340.0 364.1 L341.9 365.1 L343.8 363.1 L345.6 369.1 L347.5 365.1 L349.4 363.1 L351.2 362.1 L353.1 364.1 L355.0 365.1 L357.2 363.1 L359.5 365.6 L361.8 365.6 L364.4 363.1 L367.0 359.0 L369.2 353.9 L371.5 362.1 L373.8 364.1 L376.8 365.1 L379.8 365.6 L382.8 365.6 L390.2 365.6 L406.4 365.6 L409.0 364.1 L411.2 365.1 L412.0 377.2 L412.4 383.3 L413.1 379.3 L414.2 377.2 L415.4 380.3 L416.5 376.2 L418.0 375.2 L419.5 377.2 L421.4 375.7 L423.2 378.2 L425.1 373.2 L427.8 372.2 L430.8 370.1 L433.8 369.1 L436.8 368.1 L439.8 370.1 L442.8 369.1 L445.8 368.1 L449.5 372.2 L455.1 372.2 L464.5 373.2 L475.8 371.2 L485.1 373.2 L494.5 374.2 L502.8 373.2 L509.5 375.7" fill="none" stroke="#555" stroke-width="0.8" stroke-linejoin="round"/>
<path d="M290.5 331.4 L291.8 333.7 L289.2 333.7 Z" fill="#e4e4e4" stroke="#5a5a5a" stroke-width="0.7"/>
<path d="M290.9 354.2 L292.2 356.5 L289.6 356.5 Z" fill="#e4e4e4" stroke="#5a5a5a" stroke-width="0.7"/>
<path d="M291.2 351.6 L292.6 354.0 L289.9 354.0 Z" fill="#e4e4e4" stroke="#5a5a5a" stroke-width="0.7"/>
<path d="M291.6 356.7 L292.9 359.0 L290.3 359.0 Z" fill="#e4e4e4" stroke="#5a5a5a" stroke-width="0.7"/>
<path d="M292.0 352.6 L293.3 355.0 L290.7 355.0 Z" fill="#e4e4e4" stroke="#5a5a5a" stroke-width="0.7"/>
<path d="M292.8 357.7 L294.1 360.1 L291.4 360.1 Z" fill="#e4e4e4" stroke="#5a5a5a" stroke-width="0.7"/>
<path d="M293.5 351.6 L294.8 354.0 L292.2 354.0 Z" fill="#e4e4e4" stroke="#5a5a5a" stroke-width="0.7"/>
<path d="M294.2 349.1 L295.6 351.4 L292.9 351.4 Z" fill="#e4e4e4" stroke="#5a5a5a" stroke-width="0.7"/>
<path d="M295.0 354.2 L296.3 356.5 L293.7 356.5 Z" fill="#e4e4e4" stroke="#5a5a5a" stroke-width="0.7"/>
<path d="M295.8 336.4 L297.1 338.8 L294.4 338.8 Z" fill="#e4e4e4" stroke="#5a5a5a" stroke-width="0.7"/>
<path d="M296.5 352.6 L297.8 355.0 L295.2 355.0 Z" fill="#e4e4e4" stroke="#5a5a5a" stroke-width="0.7"/>
<path d="M297.6 353.7 L298.9 356.0 L296.3 356.0 Z" fill="#e4e4e4" stroke="#5a5a5a" stroke-width="0.7"/>
<path d="M298.8 354.2 L300.1 356.5 L297.4 356.5 Z" fill="#e4e4e4" stroke="#5a5a5a" stroke-width="0.7"/>
<path d="M300.2 351.6 L301.6 354.0 L298.9 354.0 Z" fill="#e4e4e4" stroke="#5a5a5a" stroke-width="0.7"/>
<path d="M301.8 349.1 L303.1 351.4 L300.4 351.4 Z" fill="#e4e4e4" stroke="#5a5a5a" stroke-width="0.7"/>
<path d="M302.9 346.6 L304.2 348.9 L301.6 348.9 Z" fill="#e4e4e4" stroke="#5a5a5a" stroke-width="0.7"/>
<path d="M304.0 350.6 L305.3 353.0 L302.7 353.0 Z" fill="#e4e4e4" stroke="#5a5a5a" stroke-width="0.7"/>
<path d="M306.2 344.0 L307.6 346.4 L304.9 346.4 Z" fill="#e4e4e4" stroke="#5a5a5a" stroke-width="0.7"/>
<path d="M307.8 349.1 L309.1 351.4 L306.4 351.4 Z" fill="#e4e4e4" stroke="#5a5a5a" stroke-width="0.7"/>
<path d="M309.2 340.5 L310.6 342.8 L307.9 342.8 Z" fill="#e4e4e4" stroke="#5a5a5a" stroke-width="0.7"/>
<path d="M310.8 344.0 L312.1 346.4 L309.4 346.4 Z" fill="#e4e4e4" stroke="#5a5a5a" stroke-width="0.7"/>
<path d="M312.2 341.5 L313.6 343.9 L310.9 343.9 Z" fill="#e4e4e4" stroke="#5a5a5a" stroke-width="0.7"/>
<path d="M313.8 323.8 L315.1 326.1 L312.4 326.1 Z" fill="#e4e4e4" stroke="#5a5a5a" stroke-width="0.7"/>
<path d="M315.2 346.6 L316.6 348.9 L313.9 348.9 Z" fill="#e4e4e4" stroke="#5a5a5a" stroke-width="0.7"/>
<path d="M316.8 359.2 L318.1 361.6 L315.4 361.6 Z" fill="#e4e4e4" stroke="#5a5a5a" stroke-width="0.7"/>
<path d="M318.2 361.8 L319.6 364.1 L316.9 364.1 Z" fill="#e4e4e4" stroke="#5a5a5a" stroke-width="0.7"/>
<path d="M319.8 354.2 L321.1 356.5 L318.4 356.5 Z" fill="#e4e4e4" stroke="#5a5a5a" stroke-width="0.7"/>
<path d="M321.2 349.1 L322.6 351.4 L319.9 351.4 Z" fill="#e4e4e4" stroke="#5a5a5a" stroke-width="0.7"/>
<path d="M322.8 356.7 L324.1 359.0 L321.4 359.0 Z" fill="#e4e4e4" stroke="#5a5a5a" stroke-width="0.7"/>
<path d="M324.2 351.6 L325.6 354.0 L322.9 354.0 Z" fill="#e4e4e4" stroke="#5a5a5a" stroke-width="0.7"/>
<path d="M325.8 359.2 L327.1 361.6 L324.4 361.6 Z" fill="#e4e4e4" stroke="#5a5a5a" stroke-width="0.7"/>
<path d="M326.9 340.5 L328.2 342.8 L325.6 342.8 Z" fill="#e4e4e4" stroke="#5a5a5a" stroke-width="0.7"/>
<path d="M328.0 361.8 L329.3 364.1 L326.7 364.1 Z" fill="#e4e4e4" stroke="#5a5a5a" stroke-width="0.7"/>
<path d="M329.5 365.8 L330.8 368.2 L328.2 368.2 Z" fill="#e4e4e4" stroke="#5a5a5a" stroke-width="0.7"/>
<path d="M331.0 361.8 L332.3 364.1 L329.7 364.1 Z" fill="#e4e4e4" stroke="#5a5a5a" stroke-width="0.7"/>
<path d="M332.5 364.3 L333.8 366.6 L331.2 366.6 Z" fill="#e4e4e4" stroke="#5a5a5a" stroke-width="0.7"/>
<path d="M334.0 361.8 L335.3 364.1 L332.7 364.1 Z" fill="#e4e4e4" stroke="#5a5a5a" stroke-width="0.7"/>
<path d="M335.5 359.7 L336.8 362.1 L334.2 362.1 Z" fill="#e4e4e4" stroke="#5a5a5a" stroke-width="0.7"/>
<path d="M337.0 358.7 L338.3 361.1 L335.7 361.1 Z" fill="#e4e4e4" stroke="#5a5a5a" stroke-width="0.7"/>
<path d="M338.5 360.8 L339.8 363.1 L337.2 363.1 Z" fill="#e4e4e4" stroke="#5a5a5a" stroke-width="0.7"/>
<path d="M340.0 362.8 L341.3 365.1 L338.7 365.1 Z" fill="#e4e4e4" stroke="#5a5a5a" stroke-width="0.7"/>
<path d="M341.9 363.8 L343.2 366.1 L340.6 366.1 Z" fill="#e4e4e4" stroke="#5a5a5a" stroke-width="0.7"/>
<path d="M343.8 361.8 L345.1 364.1 L342.4 364.1 Z" fill="#e4e4e4" stroke="#5a5a5a" stroke-width="0.7"/>
<path d="M345.6 367.8 L346.9 370.2 L344.3 370.2 Z" fill="#e4e4e4" stroke="#5a5a5a" stroke-width="0.7"/>
<path d="M347.5 363.8 L348.8 366.1 L346.2 366.1 Z" fill="#e4e4e4" stroke="#5a5a5a" stroke-width="0.7"/>
<path d="M349.4 361.8 L350.7 364.1 L348.1 364.1 Z" fill="#e4e4e4" stroke="#5a5a5a" stroke-width="0.7"/>
<path d="M351.2 360.8 L352.6 363.1 L349.9 363.1 Z" fill="#e4e4e4" stroke="#5a5a5a" stroke-width="0.7"/>
<path d="M353.1 362.8 L354.4 365.1 L351.8 365.1 Z" fill="#e4e4e4" stroke="#5a5a5a" stroke-width="0.7"/>
<path d="M355.0 363.8 L356.3 366.1 L353.7 366.1 Z" fill="#e4e4e4" stroke="#5a5a5a" stroke-width="0.7"/>
<path d="M357.2 361.8 L358.6 364.1 L355.9 364.1 Z" fill="#e4e4e4" stroke="#5a5a5a" stroke-width="0.7"/>
<path d="M359.5 364.3 L360.8 366.6 L358.2 366.6 Z" fill="#e4e4e4" stroke="#5a5a5a" stroke-width="0.7"/>
<path d="M361.8 364.3 L363.1 366.6 L360.4 366.6 Z" fill="#e4e4e4" stroke="#5a5a5a" stroke-width="0.7"/>
<path d="M364.4 361.8 L365.7 364.1 L363.1 364.1 Z" fill="#e4e4e4" stroke="#5a5a5a" stroke-width="0.7"/>
<path d="M367.0 357.7 L368.3 360.1 L365.7 360.1 Z" fill="#e4e4e4" stroke="#5a5a5a" stroke-width="0.7"/>
<path d="M369.2 352.6 L370.6 355.0 L367.9 355.0 Z" fill="#e4e4e4" stroke="#5a5a5a" stroke-width="0.7"/>
<path d="M371.5 360.8 L372.8 363.1 L370.2 363.1 Z" fill="#e4e4e4" stroke="#5a5a5a" stroke-width="0.7"/>
<path d="M373.8 362.8 L375.1 365.1 L372.4 365.1 Z" fill="#e4e4e4" stroke="#5a5a5a" stroke-width="0.7"/>
<path d="M376.8 363.8 L378.1 366.1 L375.4 366.1 Z" fill="#e4e4e4" stroke="#5a5a5a" stroke-width="0.7"/>
<path d="M379.8 364.3 L381.1 366.6 L378.4 366.6 Z" fill="#e4e4e4" stroke="#5a5a5a" stroke-width="0.7"/>
<path d="M382.8 364.3 L384.1 366.6 L381.4 366.6 Z" fill="#e4e4e4" stroke="#5a5a5a" stroke-width="0.7"/>
<path d="M390.2 364.3 L391.6 366.6 L388.9 366.6 Z" fill="#e4e4e4" stroke="#5a5a5a" stroke-width="0.7"/>
<path d="M406.4 364.3 L407.7 366.6 L405.1 366.6 Z" fill="#e4e4e4" stroke="#5a5a5a" stroke-width="0.7"/>
<path d="M409.0 362.8 L410.3 365.1 L407.7 365.1 Z" fill="#e4e4e4" stroke="#5a5a5a" stroke-width="0.7"/>
<path d="M411.2 363.8 L412.6 366.1 L409.9 366.1 Z" fill="#e4e4e4" stroke="#5a5a5a" stroke-width="0.7"/>
<path d="M412.0 375.9 L413.3 378.3 L410.7 378.3 Z" fill="#e4e4e4" stroke="#5a5a5a" stroke-width="0.7"/>
<path d="M412.4 382.0 L413.7 384.4 L411.1 384.4 Z" fill="#e4e4e4" stroke="#5a5a5a" stroke-width="0.7"/>
<path d="M413.1 378.0 L414.4 380.3 L411.8 380.3 Z" fill="#e4e4e4" stroke="#5a5a5a" stroke-width="0.7"/>
<path d="M414.2 375.9 L415.6 378.3 L412.9 378.3 Z" fill="#e4e4e4" stroke="#5a5a5a" stroke-width="0.7"/>
<path d="M415.4 379.0 L416.7 381.3 L414.1 381.3 Z" fill="#e4e4e4" stroke="#5a5a5a" stroke-width="0.7"/>
<path d="M416.5 374.9 L417.8 377.3 L415.2 377.3 Z" fill="#e4e4e4" stroke="#5a5a5a" stroke-width="0.7"/>
<path d="M418.0 373.9 L419.3 376.3 L416.7 376.3 Z" fill="#e4e4e4" stroke="#5a5a5a" stroke-width="0.7"/>
<path d="M419.5 375.9 L420.8 378.3 L418.2 378.3 Z" fill="#e4e4e4" stroke="#5a5a5a" stroke-width="0.7"/>
<path d="M421.4 374.4 L422.7 376.8 L420.1 376.8 Z" fill="#e4e4e4" stroke="#5a5a5a" stroke-width="0.7"/>
<path d="M423.2 376.9 L424.6 379.3 L421.9 379.3 Z" fill="#e4e4e4" stroke="#5a5a5a" stroke-width="0.7"/>
<path d="M425.1 371.9 L426.4 374.2 L423.8 374.2 Z" fill="#e4e4e4" stroke="#5a5a5a" stroke-width="0.7"/>
<path d="M427.8 370.9 L429.1 373.2 L426.4 373.2 Z" fill="#e4e4e4" stroke="#5a5a5a" stroke-width="0.7"/>
<path d="M430.8 368.8 L432.1 371.2 L429.4 371.2 Z" fill="#e4e4e4" stroke="#5a5a5a" stroke-width="0.7"/>
<path d="M433.8 367.8 L435.1 370.2 L432.4 370.2 Z" fill="#e4e4e4" stroke="#5a5a5a" stroke-width="0.7"/>
<path d="M436.8 366.8 L438.1 369.2 L435.4 369.2 Z" fill="#e4e4e4" stroke="#5a5a5a" stroke-width="0.7"/>
<path d="M439.8 368.8 L441.1 371.2 L438.4 371.2 Z" fill="#e4e4e4" stroke="#5a5a5a" stroke-width="0.7"/>
<path d="M442.8 367.8 L444.1 370.2 L441.4 370.2 Z" fill="#e4e4e4" stroke="#5a5a5a" stroke-width="0.7"/>
<path d="M445.8 366.8 L447.1 369.2 L444.4 369.2 Z" fill="#e4e4e4" stroke="#5a5a5a" stroke-width="0.7"/>
<path d="M449.5 370.9 L450.8 373.2 L448.2 373.2 Z" fill="#e4e4e4" stroke="#5a5a5a" stroke-width="0.7"/>
<path d="M455.1 370.9 L456.4 373.2 L453.8 373.2 Z" fill="#e4e4e4" stroke="#5a5a5a" stroke-width="0.7"/>
<path d="M464.5 371.9 L465.8 374.2 L463.2 374.2 Z" fill="#e4e4e4" stroke="#5a5a5a" stroke-width="0.7"/>
<path d="M475.8 369.9 L477.1 372.2 L474.4 372.2 Z" fill="#e4e4e4" stroke="#5a5a5a" stroke-width="0.7"/>
<path d="M485.1 371.9 L486.4 374.2 L483.8 374.2 Z" fill="#e4e4e4" stroke="#5a5a5a" stroke-width="0.7"/>
<path d="M494.5 372.9 L495.8 375.2 L493.2 375.2 Z" fill="#e4e4e4" stroke="#5a5a5a" stroke-width="0.7"/>
<path d="M502.8 371.9 L504.1 374.2 L501.4 374.2 Z" fill="#e4e4e4" stroke="#5a5a5a" stroke-width="0.7"/>
<path d="M509.5 374.4 L510.8 376.8 L508.2 376.8 Z" fill="#e4e4e4" stroke="#5a5a5a" stroke-width="0.7"/>
<path d="M412.6 385.1 L415.4 390.4 L409.8 390.4 Z" fill="#111"/>
<text x="0" y="0" font-size="8.72" text-anchor="start" font-weight="normal" fill="#111" stroke="#111" stroke-width="0.2" transform="translate(292.6,323.3) scale(0.92,1)">Pretreatment</text>
<line x1="299.2" y1="326" x2="293.6" y2="341" stroke="#222" stroke-width="0.8"/>
<path d="M290.8 346.5 L294.8 342.3 L290.8 340.7 Z" fill="#111"/>
<path d="M292.4 331.8 L294.8 331.8 L293.6 334.8 Z" fill="#666" stroke="#2a2a2a" stroke-width="0.7"/>
<path d="M362.4 331.8 L364.9 331.8 L363.6 334.9 Z" fill="#666" stroke="#2a2a2a" stroke-width="0.7"/>
<path d="M291.5 365.8 L294.5 371.2 L297.3 367.9 Z" fill="#111"/>
<line x1="295.9" y1="369.5" x2="296.7" y2="370.2" stroke="#111" stroke-width="0.9"/>
<text x="0" y="0" font-size="8.72" text-anchor="start" font-weight="normal" fill="#111" stroke="#111" stroke-width="0.2" transform="translate(298.2,376.8) scale(0.92,1)">AAV2 injection</text>
<text x="0" y="0" font-size="8.72" text-anchor="start" font-weight="normal" fill="#111" stroke="#111" stroke-width="0.2" transform="translate(392.3,397.3) scale(0.92,1)">AAV2/5 injection</text>
<path d="M490 321.4 L492.2 325.2 L487.8 325.2 Z" fill="#fff" stroke="#222" stroke-width="1.1"/>
<text x="0" y="0" font-size="10.14" text-anchor="start" font-weight="normal" fill="#111" stroke="#111" stroke-width="0.2" transform="translate(496.0,327.5) scale(0.94,1)">C52</text>
</g>
</svg>
</body></html>
